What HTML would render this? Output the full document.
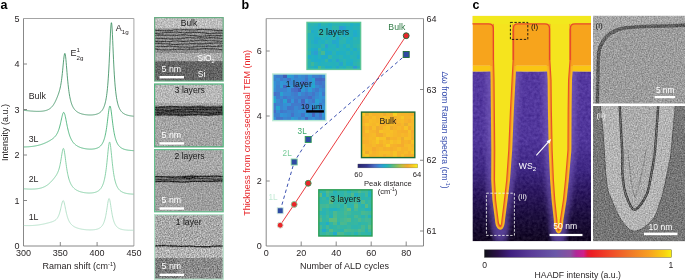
<!DOCTYPE html><html><head><meta charset="utf-8"><style>html,body{margin:0;padding:0;background:#fff;}svg{display:block;font-family:"Liberation Sans", sans-serif;} text{opacity:0.999;}</style></head><body>
<svg width="685" height="280" viewBox="0 0 685 280">
<defs>
<filter id="tem" x="0" y="0" width="100%" height="100%" color-interpolation-filters="sRGB"><feTurbulence type="fractalNoise" baseFrequency="0.75" numOctaves="2" seed="3" result="n"/><feColorMatrix in="n" type="matrix" values="1 0 0 0 0  1 0 0 0 0  1 0 0 0 0  0 0 0 0 1" result="g"/><feComposite in="SourceGraphic" in2="g" operator="arithmetic" k1="0" k2="1" k3="0.42" k4="-0.21"/></filter>
<filter id="tem2" x="0" y="0" width="100%" height="100%" color-interpolation-filters="sRGB"><feTurbulence type="fractalNoise" baseFrequency="0.75" numOctaves="2" seed="9" result="n"/><feColorMatrix in="n" type="matrix" values="1 0 0 0 0  1 0 0 0 0  1 0 0 0 0  0 0 0 0 1" result="g"/><feComposite in="SourceGraphic" in2="g" operator="arithmetic" k1="0" k2="1" k3="0.6" k4="-0.3"/></filter>
<filter id="pn" x="0" y="0" width="100%" height="100%" color-interpolation-filters="sRGB"><feTurbulence type="fractalNoise" baseFrequency="0.35" numOctaves="2" seed="5" result="n"/><feColorMatrix in="n" type="matrix" values="1 0 0 0 0  1 0 0 0 0  1 0 0 0 0  0 0 0 0 1" result="g"/><feComposite in="SourceGraphic" in2="g" operator="arithmetic" k1="0" k2="1" k3="0.16" k4="-0.08"/></filter>
<filter id="blur1" color-interpolation-filters="sRGB"><feGaussianBlur stdDeviation="0.6"/></filter>
<filter id="blur2" x="-20%" y="-20%" width="140%" height="140%" color-interpolation-filters="sRGB"><feGaussianBlur stdDeviation="2.5"/></filter>
<linearGradient id="parula" x1="0" x2="1" y1="0" y2="0"><stop offset="0.0" stop-color="#282670"/><stop offset="0.15" stop-color="#343891"/><stop offset="0.28" stop-color="#486cc6"/><stop offset="0.38" stop-color="#3296d7"/><stop offset="0.45" stop-color="#1eafc8"/><stop offset="0.52" stop-color="#32b6a5"/><stop offset="0.62" stop-color="#6ebe6e"/><stop offset="0.74" stop-color="#c3be3c"/><stop offset="0.83" stop-color="#f5aa2d"/><stop offset="0.92" stop-color="#f8cd23"/><stop offset="1.0" stop-color="#faf019"/></linearGradient>
<linearGradient id="haadf" x1="0" x2="1" y1="0" y2="0"><stop offset="0.0" stop-color="#101018"/><stop offset="0.07" stop-color="#2a1048"/><stop offset="0.14" stop-color="#402080"/><stop offset="0.25" stop-color="#5a3c98"/><stop offset="0.38" stop-color="#6a58a8"/><stop offset="0.46" stop-color="#8a50a0"/><stop offset="0.49" stop-color="#b02898"/><stop offset="0.53" stop-color="#d0208a"/><stop offset="0.55" stop-color="#e01840"/><stop offset="0.57" stop-color="#ec1c24"/><stop offset="0.67" stop-color="#f04828"/><stop offset="0.78" stop-color="#f07828"/><stop offset="0.88" stop-color="#f8a020"/><stop offset="0.96" stop-color="#f8d010"/><stop offset="1.0" stop-color="#f8f010"/></linearGradient>
</defs>
<text x="0.5" y="8.7" font-size="12.5" fill="#000" text-anchor="start" font-weight="bold" >a</text>
<path d="M23.5 18.5H133.9V246.0" fill="none" stroke="#9a9a9a" stroke-width="0.9"/>
<path d="M23.5 18.5V246.0H133.9" fill="none" stroke="#7a7a7a" stroke-width="0.9"/>
<text x="19.6" y="249.2" font-size="9" fill="#231f20" text-anchor="end" font-weight="normal" >0</text>
<line x1="23.5" y1="200.50" x2="27.0" y2="200.50" stroke="#7a7a7a" stroke-width="0.9"/>
<text x="19.6" y="203.7" font-size="9" fill="#231f20" text-anchor="end" font-weight="normal" >1</text>
<line x1="23.5" y1="155.00" x2="27.0" y2="155.00" stroke="#7a7a7a" stroke-width="0.9"/>
<text x="19.6" y="158.2" font-size="9" fill="#231f20" text-anchor="end" font-weight="normal" >2</text>
<line x1="23.5" y1="109.50" x2="27.0" y2="109.50" stroke="#7a7a7a" stroke-width="0.9"/>
<text x="19.6" y="112.7" font-size="9" fill="#231f20" text-anchor="end" font-weight="normal" >3</text>
<line x1="23.5" y1="64.00" x2="27.0" y2="64.00" stroke="#7a7a7a" stroke-width="0.9"/>
<text x="19.6" y="67.2" font-size="9" fill="#231f20" text-anchor="end" font-weight="normal" >4</text>
<text x="19.6" y="21.7" font-size="9" fill="#231f20" text-anchor="end" font-weight="normal" >5</text>
<line x1="60.30" y1="246.0" x2="60.30" y2="242.0" stroke="#7a7a7a" stroke-width="0.9"/>
<line x1="97.10" y1="246.0" x2="97.10" y2="242.0" stroke="#7a7a7a" stroke-width="0.9"/>
<text x="23.50" y="256.3" font-size="9" fill="#231f20" text-anchor="middle" font-weight="normal" >300</text>
<text x="60.30" y="256.3" font-size="9" fill="#231f20" text-anchor="middle" font-weight="normal" >350</text>
<text x="97.10" y="256.3" font-size="9" fill="#231f20" text-anchor="middle" font-weight="normal" >400</text>
<text x="133.90" y="256.3" font-size="9" fill="#231f20" text-anchor="middle" font-weight="normal" >450</text>
<text x="42.5" y="269.2" font-size="9" fill="#231f20" text-anchor="start" font-weight="normal" >Raman shift (cm<tspan font-size="5.6" dy="-3.5">-1</tspan><tspan dy="3.5">)</tspan></text>
<text x="0" y="0" font-size="9" fill="#231f20" text-anchor="middle" font-weight="normal" transform="translate(8.3 132.5) rotate(-90)">Intensity (a.u.)</text>
<path d="M23.80 225.49L24.08 225.50L24.35 225.51L24.63 225.52L24.90 225.53L25.18 225.54L25.45 225.55L25.73 225.56L26.00 225.56L26.28 225.57L26.55 225.58L26.83 225.58L27.10 225.59L27.38 225.59L27.65 225.59L27.93 225.59L28.20 225.59L28.48 225.59L28.75 225.59L29.03 225.59L29.30 225.59L29.58 225.59L29.85 225.58L30.13 225.58L30.40 225.57L30.68 225.56L30.95 225.56L31.23 225.55L31.51 225.54L31.78 225.53L32.06 225.52L32.33 225.50L32.61 225.49L32.88 225.47L33.16 225.46L33.43 225.44L33.71 225.42L33.98 225.41L34.26 225.38L34.53 225.36L34.81 225.34L35.08 225.32L35.36 225.29L35.63 225.27L35.91 225.24L36.18 225.21L36.46 225.18L36.73 225.15L37.01 225.12L37.28 225.09L37.56 225.05L37.83 225.02L38.11 224.98L38.38 224.94L38.66 224.91L38.94 224.87L39.21 224.82L39.49 224.78L39.76 224.74L40.04 224.69L40.31 224.65L40.59 224.60L40.86 224.55L41.14 224.50L41.41 224.45L41.69 224.40L41.96 224.35L42.24 224.29L42.51 224.24L42.79 224.18L43.06 224.12L43.34 224.07L43.61 224.01L43.89 223.95L44.16 223.89L44.44 223.83L44.71 223.76L44.99 223.70L45.26 223.64L45.54 223.57L45.82 223.51L46.09 223.44L46.37 223.38L46.64 223.31L46.92 223.24L47.19 223.17L47.47 223.10L47.74 223.03L48.02 222.96L48.29 222.89L48.57 222.82L48.84 222.75L49.12 222.68L49.39 222.60L49.67 222.53L49.94 222.45L50.22 222.37L50.49 222.29L50.77 222.21L51.04 222.13L51.32 222.05L51.59 221.96L51.87 221.87L52.14 221.77L52.42 221.67L52.69 221.57L52.97 221.46L53.25 221.35L53.52 221.23L53.80 221.10L54.07 220.96L54.35 220.81L54.62 220.65L54.90 220.48L55.17 220.29L55.45 220.09L55.72 219.87L56.00 219.63L56.27 219.37L56.55 219.08L56.82 218.76L57.10 218.41L57.37 218.02L57.65 217.59L57.92 217.12L58.20 216.59L58.47 216.01L58.75 215.37L59.02 214.67L59.30 213.89L59.57 213.04L59.85 212.11L60.12 211.10L60.40 210.02L60.68 208.87L60.95 207.67L61.23 206.44L61.50 205.22L61.78 204.03L62.05 202.94L62.33 202.01L62.60 201.27L62.88 200.80L63.15 200.62L63.43 200.76L63.70 201.20L63.98 201.93L64.25 202.90L64.53 204.06L64.80 205.35L65.08 206.71L65.35 208.10L65.63 209.48L65.90 210.82L66.18 212.10L66.45 213.30L66.73 214.43L67.00 215.48L67.28 216.46L67.55 217.35L67.83 218.18L68.11 218.93L68.38 219.63L68.66 220.27L68.93 220.86L69.21 221.40L69.48 221.90L69.76 222.36L70.03 222.79L70.31 223.18L70.58 223.55L70.86 223.89L71.13 224.21L71.41 224.51L71.68 224.78L71.96 225.04L72.23 225.29L72.51 225.52L72.78 225.73L73.06 225.94L73.33 226.13L73.61 226.31L73.88 226.48L74.16 226.65L74.43 226.80L74.71 226.95L74.98 227.09L75.26 227.22L75.54 227.35L75.81 227.47L76.09 227.59L76.36 227.70L76.64 227.81L76.91 227.91L77.19 228.00L77.46 228.10L77.74 228.19L78.01 228.27L78.29 228.36L78.56 228.44L78.84 228.51L79.11 228.59L79.39 228.66L79.66 228.72L79.94 228.79L80.21 228.85L80.49 228.91L80.76 228.97L81.04 229.03L81.31 229.08L81.59 229.13L81.86 229.18L82.14 229.23L82.42 229.28L82.69 229.32L82.97 229.36L83.24 229.41L83.52 229.44L83.79 229.48L84.07 229.52L84.34 229.55L84.62 229.58L84.89 229.61L85.17 229.64L85.44 229.67L85.72 229.70L85.99 229.72L86.27 229.75L86.54 229.77L86.82 229.79L87.09 229.81L87.37 229.83L87.64 229.84L87.92 229.86L88.19 229.87L88.47 229.88L88.74 229.89L89.02 229.90L89.29 229.91L89.57 229.91L89.85 229.92L90.12 229.92L90.40 229.92L90.67 229.92L90.95 229.91L91.22 229.91L91.50 229.90L91.77 229.89L92.05 229.88L92.32 229.86L92.60 229.85L92.87 229.83L93.15 229.81L93.42 229.79L93.70 229.76L93.97 229.73L94.25 229.70L94.52 229.66L94.80 229.63L95.07 229.58L95.35 229.54L95.62 229.49L95.90 229.43L96.17 229.37L96.45 229.31L96.72 229.24L97.00 229.17L97.28 229.08L97.55 229.00L97.83 228.90L98.10 228.80L98.38 228.69L98.65 228.57L98.93 228.44L99.20 228.30L99.48 228.14L99.75 227.98L100.03 227.80L100.30 227.60L100.58 227.39L100.85 227.16L101.13 226.90L101.40 226.63L101.68 226.32L101.95 225.99L102.23 225.63L102.50 225.23L102.78 224.79L103.05 224.30L103.33 223.76L103.60 223.17L103.88 222.51L104.15 221.79L104.43 220.98L104.71 220.09L104.98 219.10L105.26 218.01L105.53 216.80L105.81 215.48L106.08 214.03L106.36 212.46L106.63 210.78L106.91 209.00L107.18 207.17L107.46 205.32L107.73 203.53L108.01 201.88L108.28 200.47L108.56 199.39L108.83 198.72L109.11 198.53L109.38 198.83L109.66 199.58L109.93 200.74L110.21 202.22L110.48 203.90L110.76 205.71L111.03 207.56L111.31 209.39L111.58 211.15L111.86 212.81L112.14 214.35L112.41 215.77L112.69 217.08L112.96 218.26L113.24 219.33L113.51 220.30L113.79 221.17L114.06 221.96L114.34 222.67L114.61 223.31L114.89 223.90L115.16 224.42L115.44 224.90L115.71 225.33L115.99 225.73L116.26 226.09L116.54 226.41L116.81 226.71L117.09 226.99L117.36 227.24L117.64 227.47L117.91 227.68L118.19 227.88L118.46 228.05L118.74 228.22L119.02 228.37L119.29 228.52L119.57 228.65L119.84 228.77L120.12 228.88L120.39 228.99L120.67 229.08L120.94 229.17L121.22 229.26L121.49 229.34L121.77 229.41L122.04 229.48L122.32 229.54L122.59 229.60L122.87 229.65L123.14 229.71L123.42 229.75L123.69 229.80L123.97 229.84L124.24 229.88L124.52 229.91L124.79 229.95L125.07 229.98L125.34 230.01L125.62 230.03L125.89 230.06L126.17 230.08L126.45 230.10L126.72 230.12L127.00 230.14L127.27 230.16L127.55 230.17L127.82 230.18L128.10 230.20L128.37 230.21L128.65 230.22L128.92 230.22L129.20 230.23L129.47 230.24L129.75 230.24L130.02 230.25L130.30 230.25L130.57 230.25L130.85 230.26L131.12 230.26L131.40 230.26L131.67 230.26L131.95 230.26L132.22 230.25L132.50 230.25L132.77 230.25L133.05 230.24L133.32 230.24L133.60 230.23" fill="none" stroke="#a9dcc0" stroke-width="0.85" stroke-linejoin="round"/>
<path d="M23.80 188.78L24.08 188.81L24.35 188.83L24.63 188.85L24.90 188.87L25.18 188.89L25.45 188.91L25.73 188.92L26.00 188.94L26.28 188.96L26.55 188.97L26.83 188.99L27.10 189.00L27.38 189.02L27.65 189.03L27.93 189.04L28.20 189.05L28.48 189.06L28.75 189.07L29.03 189.08L29.30 189.09L29.58 189.10L29.85 189.10L30.13 189.11L30.40 189.11L30.68 189.11L30.95 189.11L31.23 189.11L31.51 189.11L31.78 189.11L32.06 189.11L32.33 189.10L32.61 189.10L32.88 189.09L33.16 189.08L33.43 189.07L33.71 189.06L33.98 189.05L34.26 189.03L34.53 189.02L34.81 189.00L35.08 188.98L35.36 188.96L35.63 188.93L35.91 188.91L36.18 188.88L36.46 188.85L36.73 188.82L37.01 188.79L37.28 188.75L37.56 188.72L37.83 188.67L38.11 188.63L38.38 188.59L38.66 188.54L38.94 188.49L39.21 188.44L39.49 188.38L39.76 188.32L40.04 188.26L40.31 188.19L40.59 188.12L40.86 188.05L41.14 187.97L41.41 187.90L41.69 187.81L41.96 187.72L42.24 187.63L42.51 187.54L42.79 187.44L43.06 187.33L43.34 187.22L43.61 187.11L43.89 186.99L44.16 186.87L44.44 186.74L44.71 186.60L44.99 186.46L45.26 186.32L45.54 186.17L45.82 186.01L46.09 185.85L46.37 185.68L46.64 185.50L46.92 185.32L47.19 185.13L47.47 184.93L47.74 184.73L48.02 184.52L48.29 184.31L48.57 184.08L48.84 183.85L49.12 183.61L49.39 183.37L49.67 183.12L49.94 182.86L50.22 182.60L50.49 182.32L50.77 182.05L51.04 181.76L51.32 181.47L51.59 181.18L51.87 180.87L52.14 180.57L52.42 180.25L52.69 179.93L52.97 179.61L53.25 179.28L53.52 178.95L53.80 178.61L54.07 178.26L54.35 177.91L54.62 177.55L54.90 177.18L55.17 176.81L55.45 176.42L55.72 176.02L56.00 175.61L56.27 175.18L56.55 174.73L56.82 174.26L57.10 173.76L57.37 173.22L57.65 172.65L57.92 172.03L58.20 171.35L58.47 170.62L58.75 169.81L59.02 168.93L59.30 167.96L59.57 166.90L59.85 165.73L60.12 164.45L60.40 163.06L60.68 161.56L60.95 159.96L61.23 158.28L61.50 156.55L61.78 154.81L62.05 153.13L62.33 151.58L62.60 150.25L62.88 149.22L63.15 148.59L63.43 148.41L63.70 148.71L63.98 149.48L64.25 150.68L64.53 152.25L64.80 154.10L65.08 156.13L65.35 158.26L65.63 160.43L65.90 162.56L66.18 164.63L66.45 166.59L66.73 168.44L67.00 170.16L67.28 171.76L67.55 173.24L67.83 174.60L68.11 175.84L68.38 176.99L68.66 178.04L68.93 179.01L69.21 179.90L69.48 180.72L69.76 181.48L70.03 182.17L70.31 182.82L70.58 183.42L70.86 183.97L71.13 184.49L71.41 184.96L71.68 185.41L71.96 185.83L72.23 186.22L72.51 186.59L72.78 186.93L73.06 187.26L73.33 187.56L73.61 187.85L73.88 188.12L74.16 188.38L74.43 188.62L74.71 188.85L74.98 189.07L75.26 189.27L75.54 189.47L75.81 189.65L76.09 189.83L76.36 190.00L76.64 190.16L76.91 190.31L77.19 190.46L77.46 190.60L77.74 190.73L78.01 190.86L78.29 190.98L78.56 191.10L78.84 191.21L79.11 191.32L79.39 191.42L79.66 191.52L79.94 191.61L80.21 191.70L80.49 191.78L80.76 191.86L81.04 191.94L81.31 192.02L81.59 192.09L81.86 192.16L82.14 192.22L82.42 192.28L82.69 192.34L82.97 192.40L83.24 192.45L83.52 192.50L83.79 192.55L84.07 192.60L84.34 192.64L84.62 192.68L84.89 192.72L85.17 192.76L85.44 192.79L85.72 192.82L85.99 192.85L86.27 192.88L86.54 192.90L86.82 192.93L87.09 192.95L87.37 192.96L87.64 192.98L87.92 192.99L88.19 193.00L88.47 193.01L88.74 193.02L89.02 193.02L89.29 193.02L89.57 193.02L89.85 193.02L90.12 193.01L90.40 193.00L90.67 192.99L90.95 192.98L91.22 192.96L91.50 192.94L91.77 192.91L92.05 192.89L92.32 192.86L92.60 192.82L92.87 192.79L93.15 192.74L93.42 192.70L93.70 192.65L93.97 192.60L94.25 192.54L94.52 192.47L94.80 192.41L95.07 192.33L95.35 192.25L95.62 192.16L95.90 192.07L96.17 191.97L96.45 191.86L96.72 191.75L97.00 191.62L97.28 191.49L97.55 191.34L97.83 191.19L98.10 191.02L98.38 190.84L98.65 190.65L98.93 190.44L99.20 190.22L99.48 189.98L99.75 189.72L100.03 189.43L100.30 189.13L100.58 188.80L100.85 188.44L101.13 188.05L101.40 187.63L101.68 187.17L101.95 186.67L102.23 186.13L102.50 185.53L102.78 184.88L103.05 184.17L103.33 183.39L103.60 182.53L103.88 181.59L104.15 180.55L104.43 179.41L104.71 178.16L104.98 176.77L105.26 175.25L105.53 173.58L105.81 171.75L106.08 169.74L106.36 167.57L106.63 165.21L106.91 162.70L107.18 160.04L107.46 157.28L107.73 154.46L108.01 151.68L108.28 149.04L108.56 146.64L108.83 144.63L109.11 143.13L109.38 142.25L109.66 142.04L109.93 142.53L110.21 143.69L110.48 145.41L110.76 147.60L111.03 150.12L111.31 152.84L111.58 155.65L111.86 158.46L112.14 161.19L112.41 163.80L112.69 166.26L112.96 168.55L113.24 170.66L113.51 172.60L113.79 174.38L114.06 176.00L114.34 177.47L114.61 178.80L114.89 180.02L115.16 181.12L115.44 182.13L115.71 183.04L115.99 183.88L116.26 184.64L116.54 185.33L116.81 185.97L117.09 186.55L117.36 187.09L117.64 187.58L117.91 188.03L118.19 188.45L118.46 188.83L118.74 189.19L119.02 189.52L119.29 189.82L119.57 190.10L119.84 190.37L120.12 190.61L120.39 190.84L120.67 191.05L120.94 191.25L121.22 191.44L121.49 191.61L121.77 191.77L122.04 191.92L122.32 192.07L122.59 192.20L122.87 192.33L123.14 192.45L123.42 192.56L123.69 192.66L123.97 192.76L124.24 192.85L124.52 192.94L124.79 193.02L125.07 193.10L125.34 193.17L125.62 193.24L125.89 193.31L126.17 193.37L126.45 193.42L126.72 193.48L127.00 193.53L127.27 193.58L127.55 193.63L127.82 193.67L128.10 193.71L128.37 193.75L128.65 193.78L128.92 193.82L129.20 193.85L129.47 193.88L129.75 193.91L130.02 193.94L130.30 193.96L130.57 193.98L130.85 194.01L131.12 194.03L131.40 194.04L131.67 194.06L131.95 194.08L132.22 194.09L132.50 194.11L132.77 194.12L133.05 194.13L133.32 194.14L133.60 194.15" fill="none" stroke="#72c797" stroke-width="0.85" stroke-linejoin="round"/>
<path d="M23.80 146.96L24.08 146.95L24.35 146.95L24.63 146.94L24.90 146.93L25.18 146.93L25.45 146.92L25.73 146.91L26.00 146.90L26.28 146.89L26.55 146.88L26.83 146.86L27.10 146.85L27.38 146.84L27.65 146.82L27.93 146.81L28.20 146.79L28.48 146.77L28.75 146.75L29.03 146.73L29.30 146.71L29.58 146.69L29.85 146.67L30.13 146.64L30.40 146.62L30.68 146.59L30.95 146.56L31.23 146.53L31.51 146.50L31.78 146.47L32.06 146.44L32.33 146.41L32.61 146.37L32.88 146.33L33.16 146.30L33.43 146.26L33.71 146.22L33.98 146.17L34.26 146.13L34.53 146.09L34.81 146.04L35.08 145.99L35.36 145.94L35.63 145.89L35.91 145.84L36.18 145.78L36.46 145.73L36.73 145.67L37.01 145.61L37.28 145.55L37.56 145.49L37.83 145.42L38.11 145.36L38.38 145.29L38.66 145.22L38.94 145.14L39.21 145.07L39.49 144.99L39.76 144.92L40.04 144.84L40.31 144.75L40.59 144.67L40.86 144.58L41.14 144.50L41.41 144.41L41.69 144.31L41.96 144.22L42.24 144.12L42.51 144.02L42.79 143.92L43.06 143.82L43.34 143.71L43.61 143.61L43.89 143.50L44.16 143.39L44.44 143.27L44.71 143.16L44.99 143.04L45.26 142.92L45.54 142.80L45.82 142.67L46.09 142.54L46.37 142.42L46.64 142.28L46.92 142.15L47.19 142.02L47.47 141.88L47.74 141.74L48.02 141.59L48.29 141.45L48.57 141.30L48.84 141.15L49.12 141.00L49.39 140.85L49.67 140.69L49.94 140.53L50.22 140.36L50.49 140.20L50.77 140.03L51.04 139.85L51.32 139.67L51.59 139.49L51.87 139.30L52.14 139.11L52.42 138.91L52.69 138.70L52.97 138.49L53.25 138.26L53.52 138.03L53.80 137.79L54.07 137.54L54.35 137.27L54.62 137.00L54.90 136.70L55.17 136.39L55.45 136.06L55.72 135.71L56.00 135.34L56.27 134.94L56.55 134.52L56.82 134.06L57.10 133.57L57.37 133.04L57.65 132.48L57.92 131.86L58.20 131.20L58.47 130.49L58.75 129.72L59.02 128.90L59.30 128.01L59.57 127.06L59.85 126.05L60.12 124.98L60.40 123.85L60.68 122.66L60.95 121.43L61.23 120.18L61.50 118.92L61.78 117.68L62.05 116.49L62.33 115.38L62.60 114.39L62.88 113.57L63.15 112.94L63.43 112.54L63.70 112.40L63.98 112.51L64.25 112.89L64.53 113.52L64.80 114.38L65.08 115.43L65.35 116.63L65.63 117.95L65.90 119.35L66.18 120.79L66.45 122.24L66.73 123.68L67.00 125.08L67.28 126.44L67.55 127.75L67.83 128.99L68.11 130.17L68.38 131.28L68.66 132.32L68.93 133.30L69.21 134.21L69.48 135.07L69.76 135.87L70.03 136.61L70.31 137.31L70.58 137.96L70.86 138.57L71.13 139.14L71.41 139.67L71.68 140.17L71.96 140.64L72.23 141.09L72.51 141.50L72.78 141.89L73.06 142.26L73.33 142.61L73.61 142.93L73.88 143.24L74.16 143.54L74.43 143.81L74.71 144.08L74.98 144.33L75.26 144.56L75.54 144.79L75.81 145.01L76.09 145.21L76.36 145.41L76.64 145.59L76.91 145.77L77.19 145.94L77.46 146.10L77.74 146.26L78.01 146.41L78.29 146.55L78.56 146.68L78.84 146.81L79.11 146.94L79.39 147.06L79.66 147.17L79.94 147.28L80.21 147.39L80.49 147.49L80.76 147.59L81.04 147.68L81.31 147.77L81.59 147.86L81.86 147.94L82.14 148.02L82.42 148.09L82.69 148.17L82.97 148.24L83.24 148.30L83.52 148.37L83.79 148.43L84.07 148.49L84.34 148.54L84.62 148.59L84.89 148.64L85.17 148.69L85.44 148.74L85.72 148.78L85.99 148.82L86.27 148.86L86.54 148.89L86.82 148.93L87.09 148.96L87.37 148.99L87.64 149.01L87.92 149.04L88.19 149.06L88.47 149.08L88.74 149.09L89.02 149.11L89.29 149.12L89.57 149.13L89.85 149.14L90.12 149.14L90.40 149.15L90.67 149.15L90.95 149.14L91.22 149.14L91.50 149.13L91.77 149.12L92.05 149.10L92.32 149.09L92.60 149.07L92.87 149.04L93.15 149.01L93.42 148.98L93.70 148.95L93.97 148.91L94.25 148.87L94.52 148.82L94.80 148.77L95.07 148.71L95.35 148.65L95.62 148.58L95.90 148.51L96.17 148.43L96.45 148.35L96.72 148.26L97.00 148.16L97.28 148.05L97.55 147.93L97.83 147.81L98.10 147.68L98.38 147.53L98.65 147.37L98.93 147.21L99.20 147.03L99.48 146.83L99.75 146.62L100.03 146.39L100.30 146.14L100.58 145.88L100.85 145.59L101.13 145.28L101.40 144.94L101.68 144.57L101.95 144.17L102.23 143.73L102.50 143.26L102.78 142.74L103.05 142.17L103.33 141.56L103.60 140.88L103.88 140.14L104.15 139.33L104.43 138.44L104.71 137.46L104.98 136.39L105.26 135.21L105.53 133.92L105.81 132.51L106.08 130.97L106.36 129.29L106.63 127.48L106.91 125.52L107.18 123.44L107.46 121.25L107.73 118.97L108.01 116.66L108.28 114.37L108.56 112.18L108.83 110.19L109.11 108.48L109.38 107.16L109.66 106.32L109.93 106.00L110.21 106.23L110.48 107.00L110.76 108.26L111.03 109.92L111.31 111.88L111.58 114.05L111.86 116.34L112.14 118.66L112.41 120.96L112.69 123.18L112.96 125.29L113.24 127.28L113.51 129.13L113.79 130.84L114.06 132.42L114.34 133.86L114.61 135.18L114.89 136.39L115.16 137.49L115.44 138.50L115.71 139.41L115.99 140.25L116.26 141.01L116.54 141.71L116.81 142.35L117.09 142.94L117.36 143.48L117.64 143.97L117.91 144.43L118.19 144.84L118.46 145.23L118.74 145.59L119.02 145.92L119.29 146.23L119.57 146.51L119.84 146.78L120.12 147.02L120.39 147.25L120.67 147.47L120.94 147.66L121.22 147.85L121.49 148.03L121.77 148.19L122.04 148.34L122.32 148.49L122.59 148.62L122.87 148.75L123.14 148.87L123.42 148.98L123.69 149.08L123.97 149.18L124.24 149.28L124.52 149.36L124.79 149.45L125.07 149.53L125.34 149.60L125.62 149.67L125.89 149.74L126.17 149.80L126.45 149.86L126.72 149.91L127.00 149.97L127.27 150.02L127.55 150.07L127.82 150.11L128.10 150.15L128.37 150.19L128.65 150.23L128.92 150.27L129.20 150.30L129.47 150.33L129.75 150.36L130.02 150.39L130.30 150.42L130.57 150.45L130.85 150.47L131.12 150.49L131.40 150.51L131.67 150.53L131.95 150.55L132.22 150.57L132.50 150.59L132.77 150.60L133.05 150.62L133.32 150.63L133.60 150.64" fill="none" stroke="#3fae70" stroke-width="0.85" stroke-linejoin="round"/>
<path d="M23.80 110.28L24.08 110.31L24.35 110.35L24.63 110.38L24.90 110.42L25.18 110.45L25.45 110.48L25.73 110.51L26.00 110.55L26.28 110.58L26.55 110.61L26.83 110.64L27.10 110.67L27.38 110.70L27.65 110.73L27.93 110.76L28.20 110.79L28.48 110.81L28.75 110.84L29.03 110.87L29.30 110.90L29.58 110.92L29.85 110.95L30.13 110.97L30.40 111.00L30.68 111.02L30.95 111.04L31.23 111.07L31.51 111.09L31.78 111.11L32.06 111.13L32.33 111.15L32.61 111.17L32.88 111.19L33.16 111.21L33.43 111.22L33.71 111.24L33.98 111.26L34.26 111.27L34.53 111.28L34.81 111.30L35.08 111.31L35.36 111.32L35.63 111.33L35.91 111.34L36.18 111.35L36.46 111.36L36.73 111.36L37.01 111.37L37.28 111.37L37.56 111.37L37.83 111.38L38.11 111.38L38.38 111.37L38.66 111.37L38.94 111.37L39.21 111.36L39.49 111.35L39.76 111.35L40.04 111.33L40.31 111.32L40.59 111.31L40.86 111.29L41.14 111.27L41.41 111.25L41.69 111.23L41.96 111.20L42.24 111.17L42.51 111.14L42.79 111.11L43.06 111.07L43.34 111.03L43.61 110.99L43.89 110.95L44.16 110.90L44.44 110.84L44.71 110.78L44.99 110.72L45.26 110.66L45.54 110.59L45.82 110.51L46.09 110.43L46.37 110.35L46.64 110.25L46.92 110.16L47.19 110.05L47.47 109.94L47.74 109.82L48.02 109.70L48.29 109.57L48.57 109.42L48.84 109.27L49.12 109.11L49.39 108.94L49.67 108.76L49.94 108.57L50.22 108.36L50.49 108.14L50.77 107.91L51.04 107.67L51.32 107.41L51.59 107.13L51.87 106.84L52.14 106.53L52.42 106.20L52.69 105.85L52.97 105.49L53.25 105.10L53.52 104.70L53.80 104.27L54.07 103.82L54.35 103.34L54.62 102.85L54.90 102.33L55.17 101.80L55.45 101.24L55.72 100.66L56.00 100.06L56.27 99.44L56.55 98.81L56.82 98.15L57.10 97.48L57.37 96.79L57.65 96.09L57.92 95.36L58.20 94.61L58.47 93.84L58.75 93.03L59.02 92.18L59.30 91.27L59.57 90.30L59.85 89.26L60.12 88.12L60.40 86.86L60.68 85.48L60.95 83.94L61.23 82.24L61.50 80.34L61.78 78.25L62.05 75.95L62.33 73.44L62.60 70.75L62.88 67.91L63.15 65.01L63.43 62.13L63.70 59.41L63.98 57.00L64.25 55.09L64.53 53.83L64.80 53.35L65.08 53.71L65.35 54.90L65.63 56.84L65.90 59.40L66.18 62.41L66.45 65.69L66.73 69.09L67.00 72.48L67.28 75.78L67.55 78.92L67.83 81.85L68.11 84.57L68.38 87.06L68.66 89.34L68.93 91.41L69.21 93.29L69.48 95.00L69.76 96.54L70.03 97.94L70.31 99.21L70.58 100.37L70.86 101.42L71.13 102.38L71.41 103.25L71.68 104.05L71.96 104.78L72.23 105.45L72.51 106.07L72.78 106.64L73.06 107.17L73.33 107.66L73.61 108.11L73.88 108.53L74.16 108.92L74.43 109.28L74.71 109.62L74.98 109.93L75.26 110.23L75.54 110.51L75.81 110.77L76.09 111.01L76.36 111.24L76.64 111.46L76.91 111.66L77.19 111.85L77.46 112.04L77.74 112.21L78.01 112.37L78.29 112.52L78.56 112.67L78.84 112.81L79.11 112.94L79.39 113.06L79.66 113.18L79.94 113.29L80.21 113.40L80.49 113.50L80.76 113.60L81.04 113.69L81.31 113.78L81.59 113.86L81.86 113.94L82.14 114.02L82.42 114.09L82.69 114.16L82.97 114.22L83.24 114.28L83.52 114.34L83.79 114.40L84.07 114.45L84.34 114.50L84.62 114.55L84.89 114.59L85.17 114.63L85.44 114.67L85.72 114.71L85.99 114.74L86.27 114.78L86.54 114.81L86.82 114.83L87.09 114.86L87.37 114.88L87.64 114.90L87.92 114.92L88.19 114.94L88.47 114.95L88.74 114.97L89.02 114.98L89.29 114.98L89.57 114.99L89.85 114.99L90.12 115.00L90.40 114.99L90.67 114.99L90.95 114.98L91.22 114.98L91.50 114.97L91.77 114.95L92.05 114.94L92.32 114.92L92.60 114.90L92.87 114.87L93.15 114.84L93.42 114.81L93.70 114.78L93.97 114.74L94.25 114.70L94.52 114.65L94.80 114.61L95.07 114.55L95.35 114.49L95.62 114.43L95.90 114.36L96.17 114.29L96.45 114.21L96.72 114.13L97.00 114.04L97.28 113.94L97.55 113.84L97.83 113.73L98.10 113.61L98.38 113.48L98.65 113.34L98.93 113.19L99.20 113.03L99.48 112.86L99.75 112.67L100.03 112.47L100.30 112.26L100.58 112.03L100.85 111.78L101.13 111.51L101.40 111.22L101.68 110.90L101.95 110.56L102.23 110.18L102.50 109.78L102.78 109.34L103.05 108.85L103.33 108.33L103.60 107.75L103.88 107.11L104.15 106.41L104.43 105.64L104.71 104.79L104.98 103.85L105.26 102.80L105.53 101.63L105.81 100.33L106.08 98.87L106.36 97.24L106.63 95.40L106.91 93.32L107.18 90.98L107.46 88.34L107.73 85.35L108.01 81.97L108.28 78.15L108.56 73.85L108.83 69.05L109.11 63.74L109.38 57.94L109.66 51.76L109.93 45.35L110.21 39.00L110.48 33.09L110.76 28.09L111.03 24.48L111.31 22.67L111.58 22.89L111.86 25.10L112.14 29.04L112.41 34.28L112.69 40.33L112.96 46.72L113.24 53.11L113.51 59.24L113.79 64.95L114.06 70.17L114.34 74.88L114.61 79.08L114.89 82.82L115.16 86.12L115.44 89.05L115.71 91.64L115.99 93.93L116.26 95.96L116.54 97.77L116.81 99.38L117.09 100.81L117.36 102.10L117.64 103.25L117.91 104.29L118.19 105.22L118.46 106.07L118.74 106.83L119.02 107.53L119.29 108.16L119.57 108.74L119.84 109.27L120.12 109.76L120.39 110.20L120.67 110.61L120.94 110.99L121.22 111.34L121.49 111.66L121.77 111.96L122.04 112.24L122.32 112.50L122.59 112.74L122.87 112.97L123.14 113.17L123.42 113.37L123.69 113.55L123.97 113.73L124.24 113.89L124.52 114.04L124.79 114.18L125.07 114.31L125.34 114.44L125.62 114.56L125.89 114.67L126.17 114.77L126.45 114.87L126.72 114.96L127.00 115.05L127.27 115.14L127.55 115.22L127.82 115.29L128.10 115.36L128.37 115.43L128.65 115.49L128.92 115.55L129.20 115.61L129.47 115.66L129.75 115.71L130.02 115.76L130.30 115.81L130.57 115.85L130.85 115.89L131.12 115.93L131.40 115.97L131.67 116.00L131.95 116.04L132.22 116.07L132.50 116.10L132.77 116.13L133.05 116.15L133.32 116.18L133.60 116.20" fill="none" stroke="#3a8f60" stroke-width="0.85" stroke-linejoin="round"/>
<text x="28.7" y="99" font-size="8.8" fill="#231f20" text-anchor="start" font-weight="normal" >Bulk</text>
<text x="28.7" y="141.6" font-size="8.8" fill="#231f20" text-anchor="start" font-weight="normal" >3L</text>
<text x="28.7" y="181.6" font-size="8.8" fill="#231f20" text-anchor="start" font-weight="normal" >2L</text>
<text x="28.7" y="219.6" font-size="8.8" fill="#231f20" text-anchor="start" font-weight="normal" >1L</text>
<text x="70.6" y="56.3" font-size="9" fill="#231f20" text-anchor="start" font-weight="normal" >E<tspan font-size="6.2" dy="-4.3">1</tspan><tspan font-size="6.2" dx="-3.5" dy="7.8">2g</tspan></text>
<text x="115.8" y="31.3" font-size="9" fill="#231f20" text-anchor="start" font-weight="normal" >A<tspan font-size="6.2" dy="2.6">1g</tspan></text>
<clipPath id="tc0"><rect x="154.6" y="17.6" width="68.6" height="63.4"/></clipPath>
<g clip-path="url(#tc0)"><g filter="url(#tem)">
<rect x="154.6" y="17.6" width="68.6" height="63.4" fill="#a0a0a0"/>
<rect x="154.6" y="17.6" width="68.6" height="11.0" fill="#bebebe"/>
<rect x="154.6" y="28.6" width="68.6" height="23.699999999999996" fill="#929292"/>
<path d="M152.60 30.07L154.46 30.28L156.32 30.44L158.18 30.51L160.05 30.51L161.91 30.52L163.77 30.58L165.63 30.67L167.49 30.70L169.35 30.58L171.22 30.33L173.08 30.03L174.94 29.80L176.80 29.71L178.66 29.73L180.52 29.76L182.38 29.75L184.25 29.68L186.11 29.62L187.97 29.65L189.83 29.77L191.69 29.90L193.55 29.95L195.42 29.85L197.28 29.65L199.14 29.46L201.00 29.38L202.86 29.43L204.72 29.54L206.58 29.64L208.45 29.68L210.31 29.71L212.17 29.81L214.03 30.03L215.89 30.31L217.75 30.56L219.62 30.66L221.48 30.61L223.34 30.47L225.20 30.36" fill="none" stroke="#454545" stroke-width="1.15"/>
<path d="M152.60 33.17L154.46 33.27L156.32 33.38L158.18 33.41L160.05 33.29L161.91 33.03L163.77 32.73L165.63 32.51L167.49 32.42L169.35 32.41L171.22 32.40L173.08 32.33L174.94 32.24L176.80 32.20L178.66 32.28L180.52 32.45L182.38 32.63L184.25 32.71L186.11 32.64L187.97 32.48L189.83 32.34L191.69 32.30L193.55 32.35L195.42 32.44L197.28 32.49L199.14 32.48L201.00 32.48L202.86 32.59L204.72 32.82L206.58 33.12L208.45 33.37L210.31 33.47L212.17 33.42L214.03 33.31L215.89 33.22L217.75 33.19L219.62 33.19L221.48 33.14L223.34 33.00L225.20 32.82" fill="none" stroke="#454545" stroke-width="1.15"/>
<path d="M152.60 35.74L154.46 35.46L156.32 35.20L158.18 35.05L160.05 35.06L161.91 35.18L163.77 35.28L165.63 35.30L167.49 35.25L169.35 35.19L171.22 35.21L173.08 35.29L174.94 35.36L176.80 35.33L178.66 35.18L180.52 34.98L182.38 34.84L184.25 34.85L186.11 35.00L187.97 35.21L189.83 35.38L191.69 35.48L193.55 35.54L195.42 35.66L197.28 35.86L199.14 36.07L201.00 36.21L202.86 36.19L204.72 36.03L206.58 35.82L208.45 35.69L210.31 35.67L212.17 35.73L214.03 35.78L215.89 35.75L217.75 35.68L219.62 35.63L221.48 35.67L223.34 35.79L225.20 35.90" fill="none" stroke="#454545" stroke-width="1.15"/>
<path d="M152.60 38.45L154.46 38.52L156.32 38.53L158.18 38.45L160.05 38.32L161.91 38.27L163.77 38.35L165.63 38.56L167.49 38.78L169.35 38.91L171.22 38.90L173.08 38.81L174.94 38.71L176.80 38.67L178.66 38.65L180.52 38.57L182.38 38.38L184.25 38.11L186.11 37.84L187.97 37.69L189.83 37.70L191.69 37.82L193.55 37.94L195.42 37.98L197.28 37.95L199.14 37.91L201.00 37.94L202.86 38.03L204.72 38.12L206.58 38.12L208.45 37.99L210.31 37.81L212.17 37.68L214.03 37.70L215.89 37.85L217.75 38.07L219.62 38.24L221.48 38.34L223.34 38.41L225.20 38.51" fill="none" stroke="#454545" stroke-width="1.15"/>
<path d="M152.60 40.85L154.46 41.14L156.32 41.43L158.18 41.61L160.05 41.63L161.91 41.56L163.77 41.48L165.63 41.46L167.49 41.49L169.35 41.47L171.22 41.37L173.08 41.18L174.94 41.02L176.80 40.97L178.66 41.06L180.52 41.23L182.38 41.35L184.25 41.35L186.11 41.24L187.97 41.09L189.83 40.99L191.69 40.94L193.55 40.90L195.42 40.78L197.28 40.57L199.14 40.33L201.00 40.17L202.86 40.18L204.72 40.33L206.58 40.54L208.45 40.70L210.31 40.77L212.17 40.80L214.03 40.85L215.89 40.97L217.75 41.12L219.62 41.21L221.48 41.18L223.34 41.04L225.20 40.90" fill="none" stroke="#454545" stroke-width="1.15"/>
<path d="M152.60 43.61L154.46 43.45L156.32 43.37L158.18 43.41L160.05 43.53L161.91 43.65L163.77 43.70L165.63 43.72L167.49 43.79L169.35 43.96L171.22 44.21L173.08 44.46L174.94 44.58L176.80 44.53L178.66 44.36L180.52 44.19L182.38 44.08L184.25 44.05L186.11 44.02L187.97 43.92L189.83 43.76L191.69 43.61L193.55 43.56L195.42 43.64L197.28 43.80L199.14 43.92L201.00 43.91L202.86 43.77L204.72 43.58L206.58 43.44L208.45 43.38L210.31 43.36L212.17 43.30L214.03 43.18L215.89 43.03L217.75 42.95L219.62 43.03L221.48 43.26L223.34 43.54L225.20 43.76" fill="none" stroke="#454545" stroke-width="1.15"/>
<path d="M152.60 46.21L154.46 46.28L156.32 46.27L158.18 46.25L160.05 46.30L161.91 46.40L163.77 46.48L165.63 46.48L167.49 46.37L169.35 46.22L171.22 46.17L173.08 46.26L174.94 46.48L176.80 46.72L178.66 46.90L180.52 46.97L182.38 46.99L184.25 47.04L186.11 47.14L187.97 47.24L189.83 47.25L191.69 47.11L193.55 46.86L195.42 46.59L197.28 46.43L199.14 46.40L201.00 46.46L202.86 46.50L204.72 46.47L206.58 46.39L208.45 46.33L210.31 46.36L212.17 46.46L214.03 46.53L215.89 46.49L217.75 46.31L219.62 46.06L221.48 45.86L223.34 45.79L225.20 45.84" fill="none" stroke="#454545" stroke-width="1.15"/>
<path d="M152.60 48.94L154.46 49.05L156.32 49.29L158.18 49.56L160.05 49.75L161.91 49.83L163.77 49.82L165.63 49.82L167.49 49.87L169.35 49.93L171.22 49.92L173.08 49.78L174.94 49.52L176.80 49.27L178.66 49.12L180.52 49.11L182.38 49.20L184.25 49.28L186.11 49.28L187.97 49.20L189.83 49.13L191.69 49.13L193.55 49.18L195.42 49.23L197.28 49.17L199.14 48.98L201.00 48.73L202.86 48.53L204.72 48.47L206.58 48.56L208.45 48.70L210.31 48.82L212.17 48.88L214.03 48.93L215.89 49.05L217.75 49.26L219.62 49.51L221.48 49.69L223.34 49.72L225.20 49.61" fill="none" stroke="#454545" stroke-width="1.15"/>
<rect x="154.6" y="50.5" width="68.6" height="2.5" fill="#8a8a8a"/>
<rect x="154.6" y="53" width="68.6" height="8.2" fill="#aaaaaa"/>
<rect x="154.6" y="61.2" width="68.6" height="19.799999999999997" fill="#636363"/>
</g></g>
<rect x="154.6" y="17.6" width="68.6" height="63.4" fill="none" stroke="#6aae84" stroke-width="1.2"/>
<clipPath id="tc1"><rect x="154.6" y="84.0" width="68.6" height="62.900000000000006"/></clipPath>
<g clip-path="url(#tc1)"><g filter="url(#tem)">
<rect x="154.6" y="84.0" width="68.6" height="62.900000000000006" fill="#a4a4a4"/>
<rect x="154.6" y="84.0" width="68.6" height="19" fill="#b8b8b8"/>
<path d="M152.60 110.96L154.46 111.18L156.32 111.35L158.18 111.37L160.05 111.24L161.91 111.05L163.77 110.93L165.63 110.95L167.49 111.09L169.35 111.24L171.22 111.31L173.08 111.31L174.94 111.29L176.80 111.35L178.66 111.49L180.52 111.63L182.38 111.65L184.25 111.49L186.11 111.19L187.97 110.88L189.83 110.66L191.69 110.57L193.55 110.55L195.42 110.51L197.28 110.41L199.14 110.29L201.00 110.27L202.86 110.38L204.72 110.59L206.58 110.78L208.45 110.84L210.31 110.75L212.17 110.58L214.03 110.45L215.89 110.43L217.75 110.50L219.62 110.58L221.48 110.59L223.34 110.56L225.20 110.57" fill="none" stroke="#555" stroke-width="9.5"/>
<path d="M152.60 107.53L154.46 107.53L156.32 107.43L158.18 107.32L160.05 107.26L161.91 107.24L163.77 107.20L165.63 107.08L167.49 106.87L169.35 106.64L171.22 106.49L173.08 106.48L174.94 106.60L176.80 106.76L178.66 106.88L180.52 106.93L182.38 106.95L184.25 107.01L186.11 107.14L187.97 107.29L189.83 107.37L191.69 107.33L193.55 107.20L195.42 107.07L197.28 107.04L199.14 107.13L201.00 107.29L202.86 107.44L204.72 107.52L206.58 107.54L208.45 107.57L210.31 107.67L212.17 107.80L214.03 107.90L215.89 107.88L217.75 107.72L219.62 107.47L221.48 107.25L223.34 107.12L225.20 107.09" fill="none" stroke="#2a2a2a" stroke-width="1.3"/>
<path d="M152.60 109.60L154.46 109.70L156.32 109.86L158.18 109.98L160.05 110.03L161.91 110.04L163.77 110.08L165.63 110.17L167.49 110.31L169.35 110.39L171.22 110.34L173.08 110.15L174.94 109.89L176.80 109.68L178.66 109.57L180.52 109.54L182.38 109.53L184.25 109.48L186.11 109.38L187.97 109.31L189.83 109.33L191.69 109.45L193.55 109.59L195.42 109.67L197.28 109.62L199.14 109.47L201.00 109.31L202.86 109.23L204.72 109.24L206.58 109.30L208.45 109.33L210.31 109.32L212.17 109.31L214.03 109.37L215.89 109.55L217.75 109.81L219.62 110.07L221.48 110.21L223.34 110.22L225.20 110.15" fill="none" stroke="#2a2a2a" stroke-width="1.3"/>
<path d="M152.60 112.72L154.46 112.62L156.32 112.56L158.18 112.54L160.05 112.50L161.91 112.37L163.77 112.15L165.63 111.90L167.49 111.71L169.35 111.66L171.22 111.74L173.08 111.86L174.94 111.93L176.80 111.93L178.66 111.90L180.52 111.90L182.38 111.97L184.25 112.07L186.11 112.11L187.97 112.05L189.83 111.91L191.69 111.76L193.55 111.72L195.42 111.81L197.28 111.99L199.14 112.17L201.00 112.28L202.86 112.34L204.72 112.41L206.58 112.54L208.45 112.72L210.31 112.87L212.17 112.90L214.03 112.79L215.89 112.60L217.75 112.41L219.62 112.33L221.48 112.33L223.34 112.37L225.20 112.36" fill="none" stroke="#2a2a2a" stroke-width="1.3"/>
<path d="M152.60 114.55L154.46 114.62L156.32 114.57L158.18 114.40L160.05 114.21L161.91 114.09L163.77 114.08L165.63 114.12L167.49 114.16L169.35 114.15L171.22 114.13L173.08 114.17L174.94 114.33L176.80 114.58L178.66 114.84L180.52 115.01L182.38 115.03L184.25 114.97L186.11 114.90L187.97 114.89L189.83 114.93L191.69 114.95L193.55 114.91L195.42 114.79L197.28 114.69L199.14 114.68L201.00 114.78L202.86 114.95L204.72 115.09L206.58 115.10L208.45 115.00L210.31 114.85L212.17 114.73L214.03 114.67L215.89 114.62L217.75 114.51L219.62 114.32L221.48 114.10L223.34 113.94L225.20 113.92" fill="none" stroke="#2a2a2a" stroke-width="1.3"/>
</g></g>
<rect x="154.6" y="84.0" width="68.6" height="62.900000000000006" fill="none" stroke="#4fb67c" stroke-width="1.2"/>
<clipPath id="tc2"><rect x="154.6" y="149.6" width="68.6" height="62.20000000000002"/></clipPath>
<g clip-path="url(#tc2)"><g filter="url(#tem)">
<rect x="154.6" y="149.6" width="68.6" height="62.20000000000002" fill="#9e9e9e"/>
<rect x="154.6" y="149.6" width="68.6" height="22" fill="#a8a8a8"/>
<path d="M152.60 179.46L154.46 179.39L156.32 179.26L158.18 179.14L160.05 179.10L161.91 179.13L163.77 179.18L165.63 179.19L167.49 179.16L169.35 179.11L171.22 179.12L173.08 179.18L174.94 179.26L176.80 179.29L178.66 179.22L180.52 179.06L182.38 178.87L184.25 178.73L186.11 178.67L187.97 178.66L189.83 178.65L191.69 178.60L193.55 178.54L195.42 178.53L197.28 178.61L199.14 178.77L201.00 178.93L202.86 179.03L204.72 179.03L206.58 178.97L208.45 178.91L210.31 178.91L212.17 178.95L214.03 179.00L215.89 179.01L217.75 178.98L219.62 178.95L221.48 179.00L223.34 179.13L225.20 179.31" fill="none" stroke="#767676" stroke-width="6.5"/>
<path d="M152.60 176.54L154.46 176.53L156.32 176.58L158.18 176.65L160.05 176.67L161.91 176.65L163.77 176.62L165.63 176.66L167.49 176.80L169.35 177.00L171.22 177.17L173.08 177.23L174.94 177.17L176.80 177.04L178.66 176.93L180.52 176.87L182.38 176.83L184.25 176.76L186.11 176.62L187.97 176.44L189.83 176.29L191.69 176.26L193.55 176.34L195.42 176.46L197.28 176.55L199.14 176.54L201.00 176.47L202.86 176.38L204.72 176.35L206.58 176.37L208.45 176.38L210.31 176.33L212.17 176.21L214.03 176.09L215.89 176.05L217.75 176.13L219.62 176.32L221.48 176.53L223.34 176.68L225.20 176.75" fill="none" stroke="#262626" stroke-width="1.3"/>
<path d="M152.60 179.18L154.46 179.21L156.32 179.26L158.18 179.37L160.05 179.52L161.91 179.64L163.77 179.64L165.63 179.52L167.49 179.32L169.35 179.15L171.22 179.05L173.08 179.02L174.94 179.00L176.80 178.94L178.66 178.84L180.52 178.76L182.38 178.76L184.25 178.84L186.11 178.97L187.97 179.03L189.83 178.99L191.69 178.86L193.55 178.70L195.42 178.60L197.28 178.58L199.14 178.61L201.00 178.61L202.86 178.57L204.72 178.52L206.58 178.54L208.45 178.68L210.31 178.90L212.17 179.13L214.03 179.28L215.89 179.32L217.75 179.29L219.62 179.25L221.48 179.27L223.34 179.31L225.20 179.33" fill="none" stroke="#262626" stroke-width="0.8"/>
<path d="M152.60 181.16L154.46 181.20L156.32 181.30L158.18 181.39L160.05 181.40L161.91 181.32L163.77 181.19L165.63 181.11L167.49 181.14L169.35 181.28L171.22 181.45L173.08 181.58L174.94 181.65L176.80 181.68L178.66 181.74L180.52 181.86L182.38 181.98L184.25 182.04L186.11 181.97L187.97 181.80L189.83 181.60L191.69 181.45L193.55 181.40L195.42 181.42L197.28 181.43L199.14 181.39L201.00 181.32L202.86 181.26L204.72 181.29L206.58 181.37L208.45 181.46L210.31 181.46L212.17 181.35L214.03 181.16L215.89 180.99L217.75 180.91L219.62 180.91L221.48 180.95L223.34 180.97L225.20 180.95" fill="none" stroke="#262626" stroke-width="1.3"/>
<path d="M182 176.6 L189 178.6 L196 176.6" fill="none" stroke="#262626" stroke-width="1.2"/>
</g></g>
<rect x="154.6" y="149.6" width="68.6" height="62.20000000000002" fill="none" stroke="#66c08e" stroke-width="1.2"/>
<clipPath id="tc3"><rect x="154.6" y="214.6" width="68.6" height="64.6"/></clipPath>
<g clip-path="url(#tc3)"><g filter="url(#tem2)">
<rect x="154.6" y="214.6" width="68.6" height="64.6" fill="#a8a8a8"/>
<path d="M152.60 246.13L154.46 246.07L156.32 246.02L158.18 245.92L160.05 245.74L161.91 245.56L163.77 245.45L165.63 245.50L167.49 245.67L169.35 245.87L171.22 246.02L173.08 246.07L174.94 246.07L176.80 246.10L178.66 246.18L180.52 246.29L182.38 246.35L184.25 246.31L186.11 246.19L187.97 246.08L189.83 246.07L191.69 246.19L193.55 246.38L195.42 246.56L197.28 246.66L199.14 246.67L201.00 246.67L202.86 246.71L204.72 246.79L206.58 246.83L208.45 246.77L210.31 246.57L212.17 246.31L214.03 246.08L215.89 245.97L217.75 245.98L219.62 246.02L221.48 246.03L223.34 245.99L225.20 245.92" fill="none" stroke="#2e2e2e" stroke-width="1.4"/>
<rect x="154.6" y="248" width="68.6" height="10" fill="#b4b4b4"/>
<rect x="154.6" y="258" width="68.6" height="21.19999999999999" fill="#8a8a8a"/>
<rect x="154.6" y="258" width="22" height="21.19999999999999" fill="#7a7a7a"/>
</g></g>
<rect x="154.6" y="214.6" width="68.6" height="64.6" fill="none" stroke="#b6e2ca" stroke-width="1.2"/>
<text x="189" y="25.9" font-size="8.4" fill="#1a1a1a" text-anchor="middle" font-weight="normal" >Bulk</text>
<text x="197.6" y="60.6" font-size="8.4" fill="#fff" text-anchor="start" font-weight="normal" >SiO<tspan font-size="5.5" dy="2">2</tspan></text>
<text x="197.8" y="76.6" font-size="8.4" fill="#fff" text-anchor="start" font-weight="normal" >Si</text>
<text x="161.6" y="72.0" font-size="8.8" fill="#fff" text-anchor="start" font-weight="normal" >5 nm</text>
<rect x="159.5" y="76.0" width="24.5" height="2.4" fill="#fff"/>
<text x="161.6" y="138.3" font-size="8.8" fill="#fff" text-anchor="start" font-weight="normal" >5 nm</text>
<rect x="159.5" y="142.2" width="24.5" height="2.4" fill="#fff"/>
<text x="161.6" y="203.0" font-size="8.8" fill="#fff" text-anchor="start" font-weight="normal" >5 nm</text>
<rect x="159.5" y="207.3" width="24.5" height="2.4" fill="#fff"/>
<text x="161.6" y="269.3" font-size="8.8" fill="#fff" text-anchor="start" font-weight="normal" >5 nm</text>
<rect x="159.5" y="273.6" width="24.5" height="2.4" fill="#fff"/>
<text x="189.8" y="92.6" font-size="8.6" fill="#1a1a1a" text-anchor="middle" font-weight="normal" >3 layers</text>
<text x="189.6" y="158.6" font-size="8.6" fill="#1a1a1a" text-anchor="middle" font-weight="normal" >2 layers</text>
<text x="188.7" y="224.5" font-size="8.6" fill="#1a1a1a" text-anchor="middle" font-weight="normal" >1 layer</text>
<text x="241.5" y="8.9" font-size="12.5" fill="#000" text-anchor="start" font-weight="bold" >b</text>
<path d="M266.2 18.6H423.5" fill="none" stroke="#9a9a9a" stroke-width="0.9"/>
<path d="M266.2 18.6V246.0H423.5V18.6" fill="none" stroke="#7a7a7a" stroke-width="0.9"/>
<text x="261.8" y="249.2" font-size="9" fill="#231f20" text-anchor="end" font-weight="normal" >0</text>
<line x1="266.2" y1="181.00" x2="269.7" y2="181.00" stroke="#7a7a7a" stroke-width="0.9"/>
<text x="261.8" y="184.2" font-size="9" fill="#231f20" text-anchor="end" font-weight="normal" >2</text>
<line x1="266.2" y1="116.00" x2="269.7" y2="116.00" stroke="#7a7a7a" stroke-width="0.9"/>
<text x="261.8" y="119.2" font-size="9" fill="#231f20" text-anchor="end" font-weight="normal" >4</text>
<line x1="266.2" y1="51.00" x2="269.7" y2="51.00" stroke="#7a7a7a" stroke-width="0.9"/>
<text x="261.8" y="54.2" font-size="9" fill="#231f20" text-anchor="end" font-weight="normal" >6</text>
<line x1="301.20" y1="246.0" x2="301.20" y2="241.5" stroke="#7a7a7a" stroke-width="0.9"/>
<line x1="336.20" y1="246.0" x2="336.20" y2="241.5" stroke="#7a7a7a" stroke-width="0.9"/>
<line x1="371.20" y1="246.0" x2="371.20" y2="241.5" stroke="#7a7a7a" stroke-width="0.9"/>
<line x1="406.20" y1="246.0" x2="406.20" y2="241.5" stroke="#7a7a7a" stroke-width="0.9"/>
<text x="266.20" y="256.3" font-size="9" fill="#231f20" text-anchor="middle" font-weight="normal" >0</text>
<text x="301.20" y="256.3" font-size="9" fill="#231f20" text-anchor="middle" font-weight="normal" >20</text>
<text x="336.20" y="256.3" font-size="9" fill="#231f20" text-anchor="middle" font-weight="normal" >40</text>
<text x="371.20" y="256.3" font-size="9" fill="#231f20" text-anchor="middle" font-weight="normal" >60</text>
<text x="406.20" y="256.3" font-size="9" fill="#231f20" text-anchor="middle" font-weight="normal" >80</text>
<line x1="420.0" y1="231.00" x2="423.5" y2="231.00" stroke="#7a7a7a" stroke-width="0.9"/>
<line x1="420.0" y1="160.25" x2="423.5" y2="160.25" stroke="#7a7a7a" stroke-width="0.9"/>
<line x1="420.0" y1="89.50" x2="423.5" y2="89.50" stroke="#7a7a7a" stroke-width="0.9"/>
<text x="426.6" y="234.2" font-size="9" fill="#231f20" text-anchor="start" font-weight="normal" >61</text>
<text x="426.6" y="163.45" font-size="9" fill="#231f20" text-anchor="start" font-weight="normal" >62</text>
<text x="426.6" y="92.7" font-size="9" fill="#231f20" text-anchor="start" font-weight="normal" >63</text>
<text x="426.6" y="21.95" font-size="9" fill="#231f20" text-anchor="start" font-weight="normal" >64</text>
<text x="344.6" y="269.2" font-size="9" fill="#231f20" text-anchor="middle" font-weight="normal" >Number of ALD cycles</text>
<text x="0" y="0" font-size="9" fill="#e8262a" text-anchor="middle" font-weight="normal" transform="translate(249.9 132.9) rotate(-90)">Thickness from cross-sectional TEM (nm)</text>
<text x="0" y="0" font-size="8.6" fill="#3a50b0" text-anchor="middle" font-weight="normal" transform="translate(442.3 130) rotate(90)">Δω from Raman spectra (cm<tspan font-size="5.6" dy="-3.5">-1</tspan><tspan dy="3.5">)</tspan></text>
<g shape-rendering="crispEdges"><rect x="307.00" y="22.40" width="3.62" height="3.67" fill="#28b3b6"/><rect x="310.57" y="22.40" width="3.62" height="3.67" fill="#2cb4af"/><rect x="314.15" y="22.40" width="3.62" height="3.67" fill="#28b2b7"/><rect x="317.72" y="22.40" width="3.62" height="3.67" fill="#22aacb"/><rect x="321.29" y="22.40" width="3.62" height="3.67" fill="#2db4ae"/><rect x="324.87" y="22.40" width="3.62" height="3.67" fill="#29b3b5"/><rect x="328.44" y="22.40" width="3.62" height="3.67" fill="#21b0c4"/><rect x="332.01" y="22.40" width="3.62" height="3.67" fill="#2ab3b3"/><rect x="335.59" y="22.40" width="3.62" height="3.67" fill="#28b3b6"/><rect x="339.16" y="22.40" width="3.62" height="3.67" fill="#28b2b7"/><rect x="342.73" y="22.40" width="3.62" height="3.67" fill="#25b2bb"/><rect x="346.31" y="22.40" width="3.62" height="3.67" fill="#2ab3b3"/><rect x="349.88" y="22.40" width="3.62" height="3.67" fill="#1fafc7"/><rect x="353.45" y="22.40" width="3.62" height="3.67" fill="#24b1be"/><rect x="357.03" y="22.40" width="3.62" height="3.67" fill="#21b0c3"/><rect x="307.00" y="26.02" width="3.62" height="3.67" fill="#2ab3b3"/><rect x="310.57" y="26.02" width="3.62" height="3.67" fill="#25b2bb"/><rect x="314.15" y="26.02" width="3.62" height="3.67" fill="#23b1c0"/><rect x="317.72" y="26.02" width="3.62" height="3.67" fill="#1eafc7"/><rect x="321.29" y="26.02" width="3.62" height="3.67" fill="#23b1bf"/><rect x="324.87" y="26.02" width="3.62" height="3.67" fill="#25b2bb"/><rect x="328.44" y="26.02" width="3.62" height="3.67" fill="#23b1c0"/><rect x="332.01" y="26.02" width="3.62" height="3.67" fill="#30b5a8"/><rect x="335.59" y="26.02" width="3.62" height="3.67" fill="#2eb5ac"/><rect x="339.16" y="26.02" width="3.62" height="3.67" fill="#2e9bd4"/><rect x="342.73" y="26.02" width="3.62" height="3.67" fill="#27a4cf"/><rect x="346.31" y="26.02" width="3.62" height="3.67" fill="#24b1be"/><rect x="349.88" y="26.02" width="3.62" height="3.67" fill="#22b0c2"/><rect x="353.45" y="26.02" width="3.62" height="3.67" fill="#27b2b8"/><rect x="357.03" y="26.02" width="3.62" height="3.67" fill="#27b2b8"/><rect x="307.00" y="29.63" width="3.62" height="3.67" fill="#3db79b"/><rect x="310.57" y="29.63" width="3.62" height="3.67" fill="#20acca"/><rect x="314.15" y="29.63" width="3.62" height="3.67" fill="#22b0c1"/><rect x="317.72" y="29.63" width="3.62" height="3.67" fill="#3cb79c"/><rect x="321.29" y="29.63" width="3.62" height="3.67" fill="#2bb3b2"/><rect x="324.87" y="29.63" width="3.62" height="3.67" fill="#2bb3b2"/><rect x="328.44" y="29.63" width="3.62" height="3.67" fill="#21b0c3"/><rect x="332.01" y="29.63" width="3.62" height="3.67" fill="#25a6cd"/><rect x="335.59" y="29.63" width="3.62" height="3.67" fill="#27b2b9"/><rect x="339.16" y="29.63" width="3.62" height="3.67" fill="#26b2ba"/><rect x="342.73" y="29.63" width="3.62" height="3.67" fill="#21abcb"/><rect x="346.31" y="29.63" width="3.62" height="3.67" fill="#1fafc6"/><rect x="349.88" y="29.63" width="3.62" height="3.67" fill="#25b1bd"/><rect x="353.45" y="29.63" width="3.62" height="3.67" fill="#1faec9"/><rect x="357.03" y="29.63" width="3.62" height="3.67" fill="#24b1bd"/><rect x="307.00" y="33.25" width="3.62" height="3.67" fill="#26b2ba"/><rect x="310.57" y="33.25" width="3.62" height="3.67" fill="#25b2bb"/><rect x="314.15" y="33.25" width="3.62" height="3.67" fill="#21b0c3"/><rect x="317.72" y="33.25" width="3.62" height="3.67" fill="#2ab3b3"/><rect x="321.29" y="33.25" width="3.62" height="3.67" fill="#2db4ae"/><rect x="324.87" y="33.25" width="3.62" height="3.67" fill="#28b2b7"/><rect x="328.44" y="33.25" width="3.62" height="3.67" fill="#1eafc8"/><rect x="332.01" y="33.25" width="3.62" height="3.67" fill="#2bb4b1"/><rect x="335.59" y="33.25" width="3.62" height="3.67" fill="#21b0c3"/><rect x="339.16" y="33.25" width="3.62" height="3.67" fill="#2db4ae"/><rect x="342.73" y="33.25" width="3.62" height="3.67" fill="#20acca"/><rect x="346.31" y="33.25" width="3.62" height="3.67" fill="#2db4ae"/><rect x="349.88" y="33.25" width="3.62" height="3.67" fill="#25b1bc"/><rect x="353.45" y="33.25" width="3.62" height="3.67" fill="#22abcb"/><rect x="357.03" y="33.25" width="3.62" height="3.67" fill="#22b1c0"/><rect x="307.00" y="36.86" width="3.62" height="3.67" fill="#26b2bb"/><rect x="310.57" y="36.86" width="3.62" height="3.67" fill="#27b2b7"/><rect x="314.15" y="36.86" width="3.62" height="3.67" fill="#1fadc9"/><rect x="317.72" y="36.86" width="3.62" height="3.67" fill="#20acca"/><rect x="321.29" y="36.86" width="3.62" height="3.67" fill="#27b2b9"/><rect x="324.87" y="36.86" width="3.62" height="3.67" fill="#21b0c3"/><rect x="328.44" y="36.86" width="3.62" height="3.67" fill="#27b2b8"/><rect x="332.01" y="36.86" width="3.62" height="3.67" fill="#2cb4b0"/><rect x="335.59" y="36.86" width="3.62" height="3.67" fill="#25a6cd"/><rect x="339.16" y="36.86" width="3.62" height="3.67" fill="#27b2b8"/><rect x="342.73" y="36.86" width="3.62" height="3.67" fill="#30b5a9"/><rect x="346.31" y="36.86" width="3.62" height="3.67" fill="#23b1c0"/><rect x="349.88" y="36.86" width="3.62" height="3.67" fill="#1eafc8"/><rect x="353.45" y="36.86" width="3.62" height="3.67" fill="#2cb4b0"/><rect x="357.03" y="36.86" width="3.62" height="3.67" fill="#27b2b8"/><rect x="307.00" y="40.48" width="3.62" height="3.67" fill="#2db4ae"/><rect x="310.57" y="40.48" width="3.62" height="3.67" fill="#22b0c1"/><rect x="314.15" y="40.48" width="3.62" height="3.67" fill="#24a8cc"/><rect x="317.72" y="40.48" width="3.62" height="3.67" fill="#24b1bd"/><rect x="321.29" y="40.48" width="3.62" height="3.67" fill="#21b0c2"/><rect x="324.87" y="40.48" width="3.62" height="3.67" fill="#2cb4b0"/><rect x="328.44" y="40.48" width="3.62" height="3.67" fill="#27b2b9"/><rect x="332.01" y="40.48" width="3.62" height="3.67" fill="#25a6cd"/><rect x="335.59" y="40.48" width="3.62" height="3.67" fill="#21abca"/><rect x="339.16" y="40.48" width="3.62" height="3.67" fill="#2db4ae"/><rect x="342.73" y="40.48" width="3.62" height="3.67" fill="#2bb4b1"/><rect x="346.31" y="40.48" width="3.62" height="3.67" fill="#20b0c5"/><rect x="349.88" y="40.48" width="3.62" height="3.67" fill="#25b1bc"/><rect x="353.45" y="40.48" width="3.62" height="3.67" fill="#29b3b5"/><rect x="357.03" y="40.48" width="3.62" height="3.67" fill="#29b3b4"/><rect x="307.00" y="44.09" width="3.62" height="3.67" fill="#2db4ae"/><rect x="310.57" y="44.09" width="3.62" height="3.67" fill="#27b2b8"/><rect x="314.15" y="44.09" width="3.62" height="3.67" fill="#24b1bd"/><rect x="317.72" y="44.09" width="3.62" height="3.67" fill="#23b1bf"/><rect x="321.29" y="44.09" width="3.62" height="3.67" fill="#2eb5ac"/><rect x="324.87" y="44.09" width="3.62" height="3.67" fill="#2aa0d1"/><rect x="328.44" y="44.09" width="3.62" height="3.67" fill="#24b1be"/><rect x="332.01" y="44.09" width="3.62" height="3.67" fill="#25b2bb"/><rect x="335.59" y="44.09" width="3.62" height="3.67" fill="#23a9cc"/><rect x="339.16" y="44.09" width="3.62" height="3.67" fill="#28b2b7"/><rect x="342.73" y="44.09" width="3.62" height="3.67" fill="#20b0c5"/><rect x="346.31" y="44.09" width="3.62" height="3.67" fill="#2db4af"/><rect x="349.88" y="44.09" width="3.62" height="3.67" fill="#24b1bd"/><rect x="353.45" y="44.09" width="3.62" height="3.67" fill="#2bb4b1"/><rect x="357.03" y="44.09" width="3.62" height="3.67" fill="#30b5a9"/><rect x="307.00" y="47.71" width="3.62" height="3.67" fill="#28b3b6"/><rect x="310.57" y="47.71" width="3.62" height="3.67" fill="#1eafc8"/><rect x="314.15" y="47.71" width="3.62" height="3.67" fill="#24a8cc"/><rect x="317.72" y="47.71" width="3.62" height="3.67" fill="#37b7a1"/><rect x="321.29" y="47.71" width="3.62" height="3.67" fill="#24b1bd"/><rect x="324.87" y="47.71" width="3.62" height="3.67" fill="#1fafc6"/><rect x="328.44" y="47.71" width="3.62" height="3.67" fill="#26b2b9"/><rect x="332.01" y="47.71" width="3.62" height="3.67" fill="#24b1be"/><rect x="335.59" y="47.71" width="3.62" height="3.67" fill="#2cb4af"/><rect x="339.16" y="47.71" width="3.62" height="3.67" fill="#25b2bb"/><rect x="342.73" y="47.71" width="3.62" height="3.67" fill="#25b2bb"/><rect x="346.31" y="47.71" width="3.62" height="3.67" fill="#1fafc6"/><rect x="349.88" y="47.71" width="3.62" height="3.67" fill="#29b3b4"/><rect x="353.45" y="47.71" width="3.62" height="3.67" fill="#20adc9"/><rect x="357.03" y="47.71" width="3.62" height="3.67" fill="#2bb3b2"/><rect x="307.00" y="51.32" width="3.62" height="3.67" fill="#32b6a5"/><rect x="310.57" y="51.32" width="3.62" height="3.67" fill="#24a8cc"/><rect x="314.15" y="51.32" width="3.62" height="3.67" fill="#2c9ed2"/><rect x="317.72" y="51.32" width="3.62" height="3.67" fill="#2ab3b2"/><rect x="321.29" y="51.32" width="3.62" height="3.67" fill="#45b994"/><rect x="324.87" y="51.32" width="3.62" height="3.67" fill="#1fadc9"/><rect x="328.44" y="51.32" width="3.62" height="3.67" fill="#22abcb"/><rect x="332.01" y="51.32" width="3.62" height="3.67" fill="#2ab3b3"/><rect x="335.59" y="51.32" width="3.62" height="3.67" fill="#1eafc8"/><rect x="339.16" y="51.32" width="3.62" height="3.67" fill="#21b0c3"/><rect x="342.73" y="51.32" width="3.62" height="3.67" fill="#22b0c1"/><rect x="346.31" y="51.32" width="3.62" height="3.67" fill="#2ab3b4"/><rect x="349.88" y="51.32" width="3.62" height="3.67" fill="#22b0c2"/><rect x="353.45" y="51.32" width="3.62" height="3.67" fill="#28b2b7"/><rect x="357.03" y="51.32" width="3.62" height="3.67" fill="#24b1be"/><rect x="307.00" y="54.94" width="3.62" height="3.67" fill="#1eafc8"/><rect x="310.57" y="54.94" width="3.62" height="3.67" fill="#22b1c0"/><rect x="314.15" y="54.94" width="3.62" height="3.67" fill="#1faec9"/><rect x="317.72" y="54.94" width="3.62" height="3.67" fill="#25b2bb"/><rect x="321.29" y="54.94" width="3.62" height="3.67" fill="#20acca"/><rect x="324.87" y="54.94" width="3.62" height="3.67" fill="#20acca"/><rect x="328.44" y="54.94" width="3.62" height="3.67" fill="#32b6a6"/><rect x="332.01" y="54.94" width="3.62" height="3.67" fill="#25b1bc"/><rect x="335.59" y="54.94" width="3.62" height="3.67" fill="#25b1bc"/><rect x="339.16" y="54.94" width="3.62" height="3.67" fill="#2ab3b4"/><rect x="342.73" y="54.94" width="3.62" height="3.67" fill="#22b0c2"/><rect x="346.31" y="54.94" width="3.62" height="3.67" fill="#23b1bf"/><rect x="349.88" y="54.94" width="3.62" height="3.67" fill="#29b3b5"/><rect x="353.45" y="54.94" width="3.62" height="3.67" fill="#28b2b7"/><rect x="357.03" y="54.94" width="3.62" height="3.67" fill="#21acca"/><rect x="307.00" y="58.55" width="3.62" height="3.67" fill="#2cb4af"/><rect x="310.57" y="58.55" width="3.62" height="3.67" fill="#20b0c4"/><rect x="314.15" y="58.55" width="3.62" height="3.67" fill="#20adc9"/><rect x="317.72" y="58.55" width="3.62" height="3.67" fill="#1faec8"/><rect x="321.29" y="58.55" width="3.62" height="3.67" fill="#22b0c1"/><rect x="324.87" y="58.55" width="3.62" height="3.67" fill="#34b6a3"/><rect x="328.44" y="58.55" width="3.62" height="3.67" fill="#21abca"/><rect x="332.01" y="58.55" width="3.62" height="3.67" fill="#27b2b9"/><rect x="335.59" y="58.55" width="3.62" height="3.67" fill="#29a1d0"/><rect x="339.16" y="58.55" width="3.62" height="3.67" fill="#25b1bc"/><rect x="342.73" y="58.55" width="3.62" height="3.67" fill="#2db4ae"/><rect x="346.31" y="58.55" width="3.62" height="3.67" fill="#23b1bf"/><rect x="349.88" y="58.55" width="3.62" height="3.67" fill="#20b0c5"/><rect x="353.45" y="58.55" width="3.62" height="3.67" fill="#27b2b8"/><rect x="357.03" y="58.55" width="3.62" height="3.67" fill="#2bb4b1"/><rect x="307.00" y="62.17" width="3.62" height="3.67" fill="#2bb3b2"/><rect x="310.57" y="62.17" width="3.62" height="3.67" fill="#3bb79d"/><rect x="314.15" y="62.17" width="3.62" height="3.67" fill="#27b2b8"/><rect x="317.72" y="62.17" width="3.62" height="3.67" fill="#20b0c4"/><rect x="321.29" y="62.17" width="3.62" height="3.67" fill="#24b1bd"/><rect x="324.87" y="62.17" width="3.62" height="3.67" fill="#25b1bd"/><rect x="328.44" y="62.17" width="3.62" height="3.67" fill="#26b2ba"/><rect x="332.01" y="62.17" width="3.62" height="3.67" fill="#25b1bc"/><rect x="335.59" y="62.17" width="3.62" height="3.67" fill="#27b2b9"/><rect x="339.16" y="62.17" width="3.62" height="3.67" fill="#25a6cd"/><rect x="342.73" y="62.17" width="3.62" height="3.67" fill="#2cb4af"/><rect x="346.31" y="62.17" width="3.62" height="3.67" fill="#20b0c4"/><rect x="349.88" y="62.17" width="3.62" height="3.67" fill="#21abca"/><rect x="353.45" y="62.17" width="3.62" height="3.67" fill="#2bb3b2"/><rect x="357.03" y="62.17" width="3.62" height="3.67" fill="#30b5a8"/><rect x="307.00" y="65.78" width="3.62" height="3.67" fill="#29b3b4"/><rect x="310.57" y="65.78" width="3.62" height="3.67" fill="#27b2b9"/><rect x="314.15" y="65.78" width="3.62" height="3.67" fill="#1faec9"/><rect x="317.72" y="65.78" width="3.62" height="3.67" fill="#4bb98e"/><rect x="321.29" y="65.78" width="3.62" height="3.67" fill="#2db4ae"/><rect x="324.87" y="65.78" width="3.62" height="3.67" fill="#21acca"/><rect x="328.44" y="65.78" width="3.62" height="3.67" fill="#1eafc7"/><rect x="332.01" y="65.78" width="3.62" height="3.67" fill="#26b2ba"/><rect x="335.59" y="65.78" width="3.62" height="3.67" fill="#24a7cd"/><rect x="339.16" y="65.78" width="3.62" height="3.67" fill="#27b2b9"/><rect x="342.73" y="65.78" width="3.62" height="3.67" fill="#21b0c2"/><rect x="346.31" y="65.78" width="3.62" height="3.67" fill="#30b5a9"/><rect x="349.88" y="65.78" width="3.62" height="3.67" fill="#2db4ad"/><rect x="353.45" y="65.78" width="3.62" height="3.67" fill="#2e9bd4"/><rect x="357.03" y="65.78" width="3.62" height="3.67" fill="#26b2bb"/></g>
<rect x="307.0" y="22.4" width="53.60000000000002" height="47.00000000000001" fill="none" stroke="#5cc597" stroke-width="1.4"/>
<g shape-rendering="crispEdges"><rect x="272.80" y="74.00" width="3.59" height="3.63" fill="#3988d1"/><rect x="276.34" y="74.00" width="3.59" height="3.63" fill="#3f7ccd"/><rect x="279.88" y="74.00" width="3.59" height="3.63" fill="#3e7ecd"/><rect x="283.42" y="74.00" width="3.59" height="3.63" fill="#425db7"/><rect x="286.96" y="74.00" width="3.59" height="3.63" fill="#29a1d0"/><rect x="290.50" y="74.00" width="3.59" height="3.63" fill="#3098d6"/><rect x="294.04" y="74.00" width="3.59" height="3.63" fill="#3e80ce"/><rect x="297.58" y="74.00" width="3.59" height="3.63" fill="#3492d5"/><rect x="301.12" y="74.00" width="3.59" height="3.63" fill="#388ad2"/><rect x="304.66" y="74.00" width="3.59" height="3.63" fill="#407ccc"/><rect x="308.20" y="74.00" width="3.59" height="3.63" fill="#3296d7"/><rect x="311.74" y="74.00" width="3.59" height="3.63" fill="#3e80ce"/><rect x="315.28" y="74.00" width="3.59" height="3.63" fill="#3e80ce"/><rect x="318.82" y="74.00" width="3.59" height="3.63" fill="#4278cb"/><rect x="322.36" y="74.00" width="3.59" height="3.63" fill="#378dd3"/><rect x="272.80" y="77.58" width="3.59" height="3.63" fill="#3c84d0"/><rect x="276.34" y="77.58" width="3.59" height="3.63" fill="#368ed4"/><rect x="279.88" y="77.58" width="3.59" height="3.63" fill="#407bcc"/><rect x="283.42" y="77.58" width="3.59" height="3.63" fill="#3a87d1"/><rect x="286.96" y="77.58" width="3.59" height="3.63" fill="#4376ca"/><rect x="290.50" y="77.58" width="3.59" height="3.63" fill="#3393d6"/><rect x="294.04" y="77.58" width="3.59" height="3.63" fill="#3988d1"/><rect x="297.58" y="77.58" width="3.59" height="3.63" fill="#388bd2"/><rect x="301.12" y="77.58" width="3.59" height="3.63" fill="#378cd3"/><rect x="304.66" y="77.58" width="3.59" height="3.63" fill="#4474c9"/><rect x="308.20" y="77.58" width="3.59" height="3.63" fill="#3492d6"/><rect x="311.74" y="77.58" width="3.59" height="3.63" fill="#26a5ce"/><rect x="315.28" y="77.58" width="3.59" height="3.63" fill="#476ac4"/><rect x="318.82" y="77.58" width="3.59" height="3.63" fill="#4768c2"/><rect x="322.36" y="77.58" width="3.59" height="3.63" fill="#486cc6"/><rect x="272.80" y="81.17" width="3.59" height="3.63" fill="#3393d6"/><rect x="276.34" y="81.17" width="3.59" height="3.63" fill="#3a87d1"/><rect x="279.88" y="81.17" width="3.59" height="3.63" fill="#3197d6"/><rect x="283.42" y="81.17" width="3.59" height="3.63" fill="#3491d5"/><rect x="286.96" y="81.17" width="3.59" height="3.63" fill="#3989d2"/><rect x="290.50" y="81.17" width="3.59" height="3.63" fill="#388ad2"/><rect x="294.04" y="81.17" width="3.59" height="3.63" fill="#3c82cf"/><rect x="297.58" y="81.17" width="3.59" height="3.63" fill="#3394d6"/><rect x="301.12" y="81.17" width="3.59" height="3.63" fill="#4572c9"/><rect x="304.66" y="81.17" width="3.59" height="3.63" fill="#3f7ecd"/><rect x="308.20" y="81.17" width="3.59" height="3.63" fill="#3989d2"/><rect x="311.74" y="81.17" width="3.59" height="3.63" fill="#29a1d0"/><rect x="315.28" y="81.17" width="3.59" height="3.63" fill="#4278cb"/><rect x="318.82" y="81.17" width="3.59" height="3.63" fill="#4473c9"/><rect x="322.36" y="81.17" width="3.59" height="3.63" fill="#407ccc"/><rect x="272.80" y="84.75" width="3.59" height="3.63" fill="#3295d7"/><rect x="276.34" y="84.75" width="3.59" height="3.63" fill="#3d81cf"/><rect x="279.88" y="84.75" width="3.59" height="3.63" fill="#2e9bd4"/><rect x="283.42" y="84.75" width="3.59" height="3.63" fill="#4666c0"/><rect x="286.96" y="84.75" width="3.59" height="3.63" fill="#3198d6"/><rect x="290.50" y="84.75" width="3.59" height="3.63" fill="#3296d7"/><rect x="294.04" y="84.75" width="3.59" height="3.63" fill="#476dc7"/><rect x="297.58" y="84.75" width="3.59" height="3.63" fill="#3988d1"/><rect x="301.12" y="84.75" width="3.59" height="3.63" fill="#3099d5"/><rect x="304.66" y="84.75" width="3.59" height="3.63" fill="#3a87d1"/><rect x="308.20" y="84.75" width="3.59" height="3.63" fill="#3296d7"/><rect x="311.74" y="84.75" width="3.59" height="3.63" fill="#22aacb"/><rect x="315.28" y="84.75" width="3.59" height="3.63" fill="#388ad2"/><rect x="318.82" y="84.75" width="3.59" height="3.63" fill="#3d80ce"/><rect x="322.36" y="84.75" width="3.59" height="3.63" fill="#4278cb"/><rect x="272.80" y="88.34" width="3.59" height="3.63" fill="#3590d5"/><rect x="276.34" y="88.34" width="3.59" height="3.63" fill="#3d82cf"/><rect x="279.88" y="88.34" width="3.59" height="3.63" fill="#3c82cf"/><rect x="283.42" y="88.34" width="3.59" height="3.63" fill="#3c83cf"/><rect x="286.96" y="88.34" width="3.59" height="3.63" fill="#3590d5"/><rect x="290.50" y="88.34" width="3.59" height="3.63" fill="#4473c9"/><rect x="294.04" y="88.34" width="3.59" height="3.63" fill="#486cc6"/><rect x="297.58" y="88.34" width="3.59" height="3.63" fill="#425db7"/><rect x="301.12" y="88.34" width="3.59" height="3.63" fill="#3099d5"/><rect x="304.66" y="88.34" width="3.59" height="3.63" fill="#3a86d1"/><rect x="308.20" y="88.34" width="3.59" height="3.63" fill="#2c9dd3"/><rect x="311.74" y="88.34" width="3.59" height="3.63" fill="#3b85d0"/><rect x="315.28" y="88.34" width="3.59" height="3.63" fill="#4179cb"/><rect x="318.82" y="88.34" width="3.59" height="3.63" fill="#378dd3"/><rect x="322.36" y="88.34" width="3.59" height="3.63" fill="#3b84d0"/><rect x="272.80" y="91.92" width="3.59" height="3.63" fill="#4670c8"/><rect x="276.34" y="91.92" width="3.59" height="3.63" fill="#4376ca"/><rect x="279.88" y="91.92" width="3.59" height="3.63" fill="#29a1d0"/><rect x="283.42" y="91.92" width="3.59" height="3.63" fill="#388bd3"/><rect x="286.96" y="91.92" width="3.59" height="3.63" fill="#378cd3"/><rect x="290.50" y="91.92" width="3.59" height="3.63" fill="#3d81ce"/><rect x="294.04" y="91.92" width="3.59" height="3.63" fill="#417acc"/><rect x="297.58" y="91.92" width="3.59" height="3.63" fill="#3394d6"/><rect x="301.12" y="91.92" width="3.59" height="3.63" fill="#3c83cf"/><rect x="304.66" y="91.92" width="3.59" height="3.63" fill="#4178cb"/><rect x="308.20" y="91.92" width="3.59" height="3.63" fill="#3c83cf"/><rect x="311.74" y="91.92" width="3.59" height="3.63" fill="#4376ca"/><rect x="315.28" y="91.92" width="3.59" height="3.63" fill="#3988d1"/><rect x="318.82" y="91.92" width="3.59" height="3.63" fill="#3198d6"/><rect x="322.36" y="91.92" width="3.59" height="3.63" fill="#4277cb"/><rect x="272.80" y="95.51" width="3.59" height="3.63" fill="#2d9cd3"/><rect x="276.34" y="95.51" width="3.59" height="3.63" fill="#417acc"/><rect x="279.88" y="95.51" width="3.59" height="3.63" fill="#3988d1"/><rect x="283.42" y="95.51" width="3.59" height="3.63" fill="#4277cb"/><rect x="286.96" y="95.51" width="3.59" height="3.63" fill="#3d81cf"/><rect x="290.50" y="95.51" width="3.59" height="3.63" fill="#3a86d1"/><rect x="294.04" y="95.51" width="3.59" height="3.63" fill="#3f7ecd"/><rect x="297.58" y="95.51" width="3.59" height="3.63" fill="#4179cb"/><rect x="301.12" y="95.51" width="3.59" height="3.63" fill="#417acc"/><rect x="304.66" y="95.51" width="3.59" height="3.63" fill="#4277cb"/><rect x="308.20" y="95.51" width="3.59" height="3.63" fill="#486bc5"/><rect x="311.74" y="95.51" width="3.59" height="3.63" fill="#3d81ce"/><rect x="315.28" y="95.51" width="3.59" height="3.63" fill="#378cd3"/><rect x="318.82" y="95.51" width="3.59" height="3.63" fill="#3394d6"/><rect x="322.36" y="95.51" width="3.59" height="3.63" fill="#3590d5"/><rect x="272.80" y="99.09" width="3.59" height="3.63" fill="#21abcb"/><rect x="276.34" y="99.09" width="3.59" height="3.63" fill="#388bd2"/><rect x="279.88" y="99.09" width="3.59" height="3.63" fill="#3f7ecd"/><rect x="283.42" y="99.09" width="3.59" height="3.63" fill="#28a2d0"/><rect x="286.96" y="99.09" width="3.59" height="3.63" fill="#4474c9"/><rect x="290.50" y="99.09" width="3.59" height="3.63" fill="#3295d7"/><rect x="294.04" y="99.09" width="3.59" height="3.63" fill="#4375ca"/><rect x="297.58" y="99.09" width="3.59" height="3.63" fill="#388bd3"/><rect x="301.12" y="99.09" width="3.59" height="3.63" fill="#4565be"/><rect x="304.66" y="99.09" width="3.59" height="3.63" fill="#3394d6"/><rect x="308.20" y="99.09" width="3.59" height="3.63" fill="#3c83cf"/><rect x="311.74" y="99.09" width="3.59" height="3.63" fill="#4375ca"/><rect x="315.28" y="99.09" width="3.59" height="3.63" fill="#2aa0d1"/><rect x="318.82" y="99.09" width="3.59" height="3.63" fill="#3492d5"/><rect x="322.36" y="99.09" width="3.59" height="3.63" fill="#3a86d1"/><rect x="272.80" y="102.68" width="3.59" height="3.63" fill="#4179cb"/><rect x="276.34" y="102.68" width="3.59" height="3.63" fill="#3b84d0"/><rect x="279.88" y="102.68" width="3.59" height="3.63" fill="#3c82cf"/><rect x="283.42" y="102.68" width="3.59" height="3.63" fill="#3491d5"/><rect x="286.96" y="102.68" width="3.59" height="3.63" fill="#3493d6"/><rect x="290.50" y="102.68" width="3.59" height="3.63" fill="#417acc"/><rect x="294.04" y="102.68" width="3.59" height="3.63" fill="#407ccc"/><rect x="297.58" y="102.68" width="3.59" height="3.63" fill="#3f7ccd"/><rect x="301.12" y="102.68" width="3.59" height="3.63" fill="#476fc7"/><rect x="304.66" y="102.68" width="3.59" height="3.63" fill="#407bcc"/><rect x="308.20" y="102.68" width="3.59" height="3.63" fill="#3c84d0"/><rect x="311.74" y="102.68" width="3.59" height="3.63" fill="#3591d5"/><rect x="315.28" y="102.68" width="3.59" height="3.63" fill="#2e9bd4"/><rect x="318.82" y="102.68" width="3.59" height="3.63" fill="#4278cb"/><rect x="322.36" y="102.68" width="3.59" height="3.63" fill="#368ed4"/><rect x="272.80" y="106.26" width="3.59" height="3.63" fill="#3f7ecd"/><rect x="276.34" y="106.26" width="3.59" height="3.63" fill="#26a5ce"/><rect x="279.88" y="106.26" width="3.59" height="3.63" fill="#3b84d0"/><rect x="283.42" y="106.26" width="3.59" height="3.63" fill="#368ed4"/><rect x="286.96" y="106.26" width="3.59" height="3.63" fill="#4375ca"/><rect x="290.50" y="106.26" width="3.59" height="3.63" fill="#4278cb"/><rect x="294.04" y="106.26" width="3.59" height="3.63" fill="#3989d2"/><rect x="297.58" y="106.26" width="3.59" height="3.63" fill="#3e7fce"/><rect x="301.12" y="106.26" width="3.59" height="3.63" fill="#388bd3"/><rect x="304.66" y="106.26" width="3.59" height="3.63" fill="#486bc5"/><rect x="308.20" y="106.26" width="3.59" height="3.63" fill="#3590d5"/><rect x="311.74" y="106.26" width="3.59" height="3.63" fill="#4376ca"/><rect x="315.28" y="106.26" width="3.59" height="3.63" fill="#2aa0d1"/><rect x="318.82" y="106.26" width="3.59" height="3.63" fill="#3d80ce"/><rect x="322.36" y="106.26" width="3.59" height="3.63" fill="#3197d6"/><rect x="272.80" y="109.85" width="3.59" height="3.63" fill="#476ec7"/><rect x="276.34" y="109.85" width="3.59" height="3.63" fill="#378cd3"/><rect x="279.88" y="109.85" width="3.59" height="3.63" fill="#4376ca"/><rect x="283.42" y="109.85" width="3.59" height="3.63" fill="#3f7dcd"/><rect x="286.96" y="109.85" width="3.59" height="3.63" fill="#3b86d0"/><rect x="290.50" y="109.85" width="3.59" height="3.63" fill="#3e80ce"/><rect x="294.04" y="109.85" width="3.59" height="3.63" fill="#388ad2"/><rect x="297.58" y="109.85" width="3.59" height="3.63" fill="#3492d5"/><rect x="301.12" y="109.85" width="3.59" height="3.63" fill="#3590d5"/><rect x="304.66" y="109.85" width="3.59" height="3.63" fill="#3c84d0"/><rect x="308.20" y="109.85" width="3.59" height="3.63" fill="#476ec7"/><rect x="311.74" y="109.85" width="3.59" height="3.63" fill="#4278cb"/><rect x="315.28" y="109.85" width="3.59" height="3.63" fill="#3d82cf"/><rect x="318.82" y="109.85" width="3.59" height="3.63" fill="#4462bc"/><rect x="322.36" y="109.85" width="3.59" height="3.63" fill="#3492d5"/><rect x="272.80" y="113.43" width="3.59" height="3.63" fill="#3d81cf"/><rect x="276.34" y="113.43" width="3.59" height="3.63" fill="#3d81ce"/><rect x="279.88" y="113.43" width="3.59" height="3.63" fill="#3295d7"/><rect x="283.42" y="113.43" width="3.59" height="3.63" fill="#3590d5"/><rect x="286.96" y="113.43" width="3.59" height="3.63" fill="#3989d2"/><rect x="290.50" y="113.43" width="3.59" height="3.63" fill="#4474c9"/><rect x="294.04" y="113.43" width="3.59" height="3.63" fill="#388ad2"/><rect x="297.58" y="113.43" width="3.59" height="3.63" fill="#388bd3"/><rect x="301.12" y="113.43" width="3.59" height="3.63" fill="#4376ca"/><rect x="304.66" y="113.43" width="3.59" height="3.63" fill="#3297d7"/><rect x="308.20" y="113.43" width="3.59" height="3.63" fill="#368ed4"/><rect x="311.74" y="113.43" width="3.59" height="3.63" fill="#4564be"/><rect x="315.28" y="113.43" width="3.59" height="3.63" fill="#3a87d1"/><rect x="318.82" y="113.43" width="3.59" height="3.63" fill="#4670c8"/><rect x="322.36" y="113.43" width="3.59" height="3.63" fill="#3098d6"/><rect x="272.80" y="117.02" width="3.59" height="3.63" fill="#3493d6"/><rect x="276.34" y="117.02" width="3.59" height="3.63" fill="#4573c9"/><rect x="279.88" y="117.02" width="3.59" height="3.63" fill="#4376ca"/><rect x="283.42" y="117.02" width="3.59" height="3.63" fill="#3a87d1"/><rect x="286.96" y="117.02" width="3.59" height="3.63" fill="#3d81cf"/><rect x="290.50" y="117.02" width="3.59" height="3.63" fill="#2c9ed2"/><rect x="294.04" y="117.02" width="3.59" height="3.63" fill="#3492d5"/><rect x="297.58" y="117.02" width="3.59" height="3.63" fill="#3d80ce"/><rect x="301.12" y="117.02" width="3.59" height="3.63" fill="#368fd4"/><rect x="304.66" y="117.02" width="3.59" height="3.63" fill="#4563bd"/><rect x="308.20" y="117.02" width="3.59" height="3.63" fill="#388ad2"/><rect x="311.74" y="117.02" width="3.59" height="3.63" fill="#3394d6"/><rect x="315.28" y="117.02" width="3.59" height="3.63" fill="#3c82cf"/><rect x="318.82" y="117.02" width="3.59" height="3.63" fill="#4179cb"/><rect x="322.36" y="117.02" width="3.59" height="3.63" fill="#368fd4"/></g>
<rect x="272.8" y="74.0" width="53.099999999999966" height="46.599999999999994" fill="none" stroke="#b9e9d4" stroke-width="1.4"/>
<g shape-rendering="crispEdges"><rect x="361.50" y="112.10" width="3.60" height="3.55" fill="#f7c625"/><rect x="365.05" y="112.10" width="3.60" height="3.55" fill="#e9af31"/><rect x="368.61" y="112.10" width="3.60" height="3.55" fill="#f6b929"/><rect x="372.16" y="112.10" width="3.60" height="3.55" fill="#f6b12b"/><rect x="375.71" y="112.10" width="3.60" height="3.55" fill="#f6b22b"/><rect x="379.27" y="112.10" width="3.60" height="3.55" fill="#f6b42a"/><rect x="382.82" y="112.10" width="3.60" height="3.55" fill="#efac2f"/><rect x="386.37" y="112.10" width="3.60" height="3.55" fill="#f6b42a"/><rect x="389.93" y="112.10" width="3.60" height="3.55" fill="#f5af2c"/><rect x="393.48" y="112.10" width="3.60" height="3.55" fill="#f8d022"/><rect x="397.03" y="112.10" width="3.60" height="3.55" fill="#f6b729"/><rect x="400.59" y="112.10" width="3.60" height="3.55" fill="#f6b32a"/><rect x="404.14" y="112.10" width="3.60" height="3.55" fill="#f6b32a"/><rect x="407.69" y="112.10" width="3.60" height="3.55" fill="#f6b02b"/><rect x="411.25" y="112.10" width="3.60" height="3.55" fill="#f5ad2c"/><rect x="361.50" y="115.60" width="3.60" height="3.55" fill="#f6b32b"/><rect x="365.05" y="115.60" width="3.60" height="3.55" fill="#f6b929"/><rect x="368.61" y="115.60" width="3.60" height="3.55" fill="#f6b42a"/><rect x="372.16" y="115.60" width="3.60" height="3.55" fill="#f7bd28"/><rect x="375.71" y="115.60" width="3.60" height="3.55" fill="#f6b42a"/><rect x="379.27" y="115.60" width="3.60" height="3.55" fill="#f6b62a"/><rect x="382.82" y="115.60" width="3.60" height="3.55" fill="#f7c226"/><rect x="386.37" y="115.60" width="3.60" height="3.55" fill="#f6ba28"/><rect x="389.93" y="115.60" width="3.60" height="3.55" fill="#f6b22b"/><rect x="393.48" y="115.60" width="3.60" height="3.55" fill="#f6b42a"/><rect x="397.03" y="115.60" width="3.60" height="3.55" fill="#f6ba28"/><rect x="400.59" y="115.60" width="3.60" height="3.55" fill="#f7c525"/><rect x="404.14" y="115.60" width="3.60" height="3.55" fill="#f6b42a"/><rect x="407.69" y="115.60" width="3.60" height="3.55" fill="#f6b42a"/><rect x="411.25" y="115.60" width="3.60" height="3.55" fill="#f7bd27"/><rect x="361.50" y="119.10" width="3.60" height="3.55" fill="#f5af2c"/><rect x="365.05" y="119.10" width="3.60" height="3.55" fill="#f6b32a"/><rect x="368.61" y="119.10" width="3.60" height="3.55" fill="#f7bd28"/><rect x="372.16" y="119.10" width="3.60" height="3.55" fill="#f6ba28"/><rect x="375.71" y="119.10" width="3.60" height="3.55" fill="#f6b629"/><rect x="379.27" y="119.10" width="3.60" height="3.55" fill="#f6bb28"/><rect x="382.82" y="119.10" width="3.60" height="3.55" fill="#e6b031"/><rect x="386.37" y="119.10" width="3.60" height="3.55" fill="#f7be27"/><rect x="389.93" y="119.10" width="3.60" height="3.55" fill="#f5ae2c"/><rect x="393.48" y="119.10" width="3.60" height="3.55" fill="#f3ab2e"/><rect x="397.03" y="119.10" width="3.60" height="3.55" fill="#f6b829"/><rect x="400.59" y="119.10" width="3.60" height="3.55" fill="#f6bb28"/><rect x="404.14" y="119.10" width="3.60" height="3.55" fill="#f6b22b"/><rect x="407.69" y="119.10" width="3.60" height="3.55" fill="#f5ad2c"/><rect x="411.25" y="119.10" width="3.60" height="3.55" fill="#f6b62a"/><rect x="361.50" y="122.60" width="3.60" height="3.55" fill="#f6b52a"/><rect x="365.05" y="122.60" width="3.60" height="3.55" fill="#f7c127"/><rect x="368.61" y="122.60" width="3.60" height="3.55" fill="#f6bb28"/><rect x="372.16" y="122.60" width="3.60" height="3.55" fill="#f6b729"/><rect x="375.71" y="122.60" width="3.60" height="3.55" fill="#f7be27"/><rect x="379.27" y="122.60" width="3.60" height="3.55" fill="#f6b42a"/><rect x="382.82" y="122.60" width="3.60" height="3.55" fill="#f5ae2c"/><rect x="386.37" y="122.60" width="3.60" height="3.55" fill="#f6ba28"/><rect x="389.93" y="122.60" width="3.60" height="3.55" fill="#f6ba28"/><rect x="393.48" y="122.60" width="3.60" height="3.55" fill="#f6b42a"/><rect x="397.03" y="122.60" width="3.60" height="3.55" fill="#f5b02b"/><rect x="400.59" y="122.60" width="3.60" height="3.55" fill="#f6b729"/><rect x="404.14" y="122.60" width="3.60" height="3.55" fill="#eaae30"/><rect x="407.69" y="122.60" width="3.60" height="3.55" fill="#f6bb28"/><rect x="411.25" y="122.60" width="3.60" height="3.55" fill="#f6b929"/><rect x="361.50" y="126.10" width="3.60" height="3.55" fill="#f3ab2d"/><rect x="365.05" y="126.10" width="3.60" height="3.55" fill="#f6b62a"/><rect x="368.61" y="126.10" width="3.60" height="3.55" fill="#f5ae2c"/><rect x="372.16" y="126.10" width="3.60" height="3.55" fill="#f7bc28"/><rect x="375.71" y="126.10" width="3.60" height="3.55" fill="#efac2f"/><rect x="379.27" y="126.10" width="3.60" height="3.55" fill="#f5af2c"/><rect x="382.82" y="126.10" width="3.60" height="3.55" fill="#f6bb28"/><rect x="386.37" y="126.10" width="3.60" height="3.55" fill="#f7bf27"/><rect x="389.93" y="126.10" width="3.60" height="3.55" fill="#eead2f"/><rect x="393.48" y="126.10" width="3.60" height="3.55" fill="#f6b22b"/><rect x="397.03" y="126.10" width="3.60" height="3.55" fill="#f6b829"/><rect x="400.59" y="126.10" width="3.60" height="3.55" fill="#f6b12b"/><rect x="404.14" y="126.10" width="3.60" height="3.55" fill="#f7c226"/><rect x="407.69" y="126.10" width="3.60" height="3.55" fill="#f5ac2c"/><rect x="411.25" y="126.10" width="3.60" height="3.55" fill="#f6b829"/><rect x="361.50" y="129.60" width="3.60" height="3.55" fill="#f5ae2c"/><rect x="365.05" y="129.60" width="3.60" height="3.55" fill="#f7c127"/><rect x="368.61" y="129.60" width="3.60" height="3.55" fill="#f6b52a"/><rect x="372.16" y="129.60" width="3.60" height="3.55" fill="#f6b32a"/><rect x="375.71" y="129.60" width="3.60" height="3.55" fill="#f3ab2e"/><rect x="379.27" y="129.60" width="3.60" height="3.55" fill="#f7c326"/><rect x="382.82" y="129.60" width="3.60" height="3.55" fill="#f7bc28"/><rect x="386.37" y="129.60" width="3.60" height="3.55" fill="#f7bc28"/><rect x="389.93" y="129.60" width="3.60" height="3.55" fill="#f7bf27"/><rect x="393.48" y="129.60" width="3.60" height="3.55" fill="#f6b829"/><rect x="397.03" y="129.60" width="3.60" height="3.55" fill="#f6b12b"/><rect x="400.59" y="129.60" width="3.60" height="3.55" fill="#f5af2b"/><rect x="404.14" y="129.60" width="3.60" height="3.55" fill="#f5af2b"/><rect x="407.69" y="129.60" width="3.60" height="3.55" fill="#f7c027"/><rect x="411.25" y="129.60" width="3.60" height="3.55" fill="#f5aa2d"/><rect x="361.50" y="133.10" width="3.60" height="3.55" fill="#f6b12b"/><rect x="365.05" y="133.10" width="3.60" height="3.55" fill="#f6b32a"/><rect x="368.61" y="133.10" width="3.60" height="3.55" fill="#f6b729"/><rect x="372.16" y="133.10" width="3.60" height="3.55" fill="#f6ba28"/><rect x="375.71" y="133.10" width="3.60" height="3.55" fill="#f5ac2c"/><rect x="379.27" y="133.10" width="3.60" height="3.55" fill="#f2ab2e"/><rect x="382.82" y="133.10" width="3.60" height="3.55" fill="#f6b62a"/><rect x="386.37" y="133.10" width="3.60" height="3.55" fill="#f7bf27"/><rect x="389.93" y="133.10" width="3.60" height="3.55" fill="#f7bc28"/><rect x="393.48" y="133.10" width="3.60" height="3.55" fill="#f6b729"/><rect x="397.03" y="133.10" width="3.60" height="3.55" fill="#f6b32a"/><rect x="400.59" y="133.10" width="3.60" height="3.55" fill="#f6b829"/><rect x="404.14" y="133.10" width="3.60" height="3.55" fill="#f6b42a"/><rect x="407.69" y="133.10" width="3.60" height="3.55" fill="#f7bc28"/><rect x="411.25" y="133.10" width="3.60" height="3.55" fill="#f5af2b"/><rect x="361.50" y="136.60" width="3.60" height="3.55" fill="#f6b729"/><rect x="365.05" y="136.60" width="3.60" height="3.55" fill="#f6b52a"/><rect x="368.61" y="136.60" width="3.60" height="3.55" fill="#f6ba28"/><rect x="372.16" y="136.60" width="3.60" height="3.55" fill="#f6b729"/><rect x="375.71" y="136.60" width="3.60" height="3.55" fill="#f8ca24"/><rect x="379.27" y="136.60" width="3.60" height="3.55" fill="#f7c126"/><rect x="382.82" y="136.60" width="3.60" height="3.55" fill="#f7c126"/><rect x="386.37" y="136.60" width="3.60" height="3.55" fill="#efac2f"/><rect x="389.93" y="136.60" width="3.60" height="3.55" fill="#f6b32a"/><rect x="393.48" y="136.60" width="3.60" height="3.55" fill="#f6b12b"/><rect x="397.03" y="136.60" width="3.60" height="3.55" fill="#f6ba28"/><rect x="400.59" y="136.60" width="3.60" height="3.55" fill="#ecad30"/><rect x="404.14" y="136.60" width="3.60" height="3.55" fill="#f7bf27"/><rect x="407.69" y="136.60" width="3.60" height="3.55" fill="#f7be27"/><rect x="411.25" y="136.60" width="3.60" height="3.55" fill="#f5ac2d"/><rect x="361.50" y="140.10" width="3.60" height="3.55" fill="#f5ae2c"/><rect x="365.05" y="140.10" width="3.60" height="3.55" fill="#f5af2b"/><rect x="368.61" y="140.10" width="3.60" height="3.55" fill="#f6b62a"/><rect x="372.16" y="140.10" width="3.60" height="3.55" fill="#f6bb28"/><rect x="375.71" y="140.10" width="3.60" height="3.55" fill="#f7c625"/><rect x="379.27" y="140.10" width="3.60" height="3.55" fill="#f6b42a"/><rect x="382.82" y="140.10" width="3.60" height="3.55" fill="#f7bc28"/><rect x="386.37" y="140.10" width="3.60" height="3.55" fill="#f6b729"/><rect x="389.93" y="140.10" width="3.60" height="3.55" fill="#f7c326"/><rect x="393.48" y="140.10" width="3.60" height="3.55" fill="#f6bb28"/><rect x="397.03" y="140.10" width="3.60" height="3.55" fill="#f7c027"/><rect x="400.59" y="140.10" width="3.60" height="3.55" fill="#f5ad2c"/><rect x="404.14" y="140.10" width="3.60" height="3.55" fill="#f6b42a"/><rect x="407.69" y="140.10" width="3.60" height="3.55" fill="#f5af2b"/><rect x="411.25" y="140.10" width="3.60" height="3.55" fill="#f7c126"/><rect x="361.50" y="143.60" width="3.60" height="3.55" fill="#f6bb28"/><rect x="365.05" y="143.60" width="3.60" height="3.55" fill="#f6b32a"/><rect x="368.61" y="143.60" width="3.60" height="3.55" fill="#f6b22b"/><rect x="372.16" y="143.60" width="3.60" height="3.55" fill="#f6b929"/><rect x="375.71" y="143.60" width="3.60" height="3.55" fill="#f6b02b"/><rect x="379.27" y="143.60" width="3.60" height="3.55" fill="#f5ae2c"/><rect x="382.82" y="143.60" width="3.60" height="3.55" fill="#f6b929"/><rect x="386.37" y="143.60" width="3.60" height="3.55" fill="#f8c924"/><rect x="389.93" y="143.60" width="3.60" height="3.55" fill="#f6b42a"/><rect x="393.48" y="143.60" width="3.60" height="3.55" fill="#f6b12b"/><rect x="397.03" y="143.60" width="3.60" height="3.55" fill="#f5ad2c"/><rect x="400.59" y="143.60" width="3.60" height="3.55" fill="#f5ab2d"/><rect x="404.14" y="143.60" width="3.60" height="3.55" fill="#f6ba29"/><rect x="407.69" y="143.60" width="3.60" height="3.55" fill="#f7bc28"/><rect x="411.25" y="143.60" width="3.60" height="3.55" fill="#f6b62a"/><rect x="361.50" y="147.10" width="3.60" height="3.55" fill="#f6b829"/><rect x="365.05" y="147.10" width="3.60" height="3.55" fill="#f6b729"/><rect x="368.61" y="147.10" width="3.60" height="3.55" fill="#f6b729"/><rect x="372.16" y="147.10" width="3.60" height="3.55" fill="#f5aa2d"/><rect x="375.71" y="147.10" width="3.60" height="3.55" fill="#f6b22b"/><rect x="379.27" y="147.10" width="3.60" height="3.55" fill="#f6b729"/><rect x="382.82" y="147.10" width="3.60" height="3.55" fill="#f5b02b"/><rect x="386.37" y="147.10" width="3.60" height="3.55" fill="#f6b22b"/><rect x="389.93" y="147.10" width="3.60" height="3.55" fill="#f5af2b"/><rect x="393.48" y="147.10" width="3.60" height="3.55" fill="#f6b32a"/><rect x="397.03" y="147.10" width="3.60" height="3.55" fill="#f7bc28"/><rect x="400.59" y="147.10" width="3.60" height="3.55" fill="#f6b32b"/><rect x="404.14" y="147.10" width="3.60" height="3.55" fill="#f6b42a"/><rect x="407.69" y="147.10" width="3.60" height="3.55" fill="#f7bc28"/><rect x="411.25" y="147.10" width="3.60" height="3.55" fill="#f6bb28"/><rect x="361.50" y="150.60" width="3.60" height="3.55" fill="#f7c326"/><rect x="365.05" y="150.60" width="3.60" height="3.55" fill="#eead2f"/><rect x="368.61" y="150.60" width="3.60" height="3.55" fill="#f7bc28"/><rect x="372.16" y="150.60" width="3.60" height="3.55" fill="#f6b22b"/><rect x="375.71" y="150.60" width="3.60" height="3.55" fill="#f6b729"/><rect x="379.27" y="150.60" width="3.60" height="3.55" fill="#f7bc28"/><rect x="382.82" y="150.60" width="3.60" height="3.55" fill="#f7be27"/><rect x="386.37" y="150.60" width="3.60" height="3.55" fill="#f7be27"/><rect x="389.93" y="150.60" width="3.60" height="3.55" fill="#f6b729"/><rect x="393.48" y="150.60" width="3.60" height="3.55" fill="#f7c226"/><rect x="397.03" y="150.60" width="3.60" height="3.55" fill="#f6b32a"/><rect x="400.59" y="150.60" width="3.60" height="3.55" fill="#f6b52a"/><rect x="404.14" y="150.60" width="3.60" height="3.55" fill="#f7bc28"/><rect x="407.69" y="150.60" width="3.60" height="3.55" fill="#f6b12b"/><rect x="411.25" y="150.60" width="3.60" height="3.55" fill="#f7c625"/><rect x="361.50" y="154.10" width="3.60" height="3.55" fill="#f7be27"/><rect x="365.05" y="154.10" width="3.60" height="3.55" fill="#f7c725"/><rect x="368.61" y="154.10" width="3.60" height="3.55" fill="#f6b52a"/><rect x="372.16" y="154.10" width="3.60" height="3.55" fill="#f6b32b"/><rect x="375.71" y="154.10" width="3.60" height="3.55" fill="#f6b729"/><rect x="379.27" y="154.10" width="3.60" height="3.55" fill="#f6bb28"/><rect x="382.82" y="154.10" width="3.60" height="3.55" fill="#f6b12b"/><rect x="386.37" y="154.10" width="3.60" height="3.55" fill="#f6b929"/><rect x="389.93" y="154.10" width="3.60" height="3.55" fill="#f6b62a"/><rect x="393.48" y="154.10" width="3.60" height="3.55" fill="#f7c226"/><rect x="397.03" y="154.10" width="3.60" height="3.55" fill="#f6b12b"/><rect x="400.59" y="154.10" width="3.60" height="3.55" fill="#f7be27"/><rect x="404.14" y="154.10" width="3.60" height="3.55" fill="#f6b12b"/><rect x="407.69" y="154.10" width="3.60" height="3.55" fill="#f5ae2c"/><rect x="411.25" y="154.10" width="3.60" height="3.55" fill="#f6b02b"/></g>
<rect x="361.5" y="112.1" width="53.30000000000001" height="45.5" fill="none" stroke="#1e6b35" stroke-width="1.4"/>
<g shape-rendering="crispEdges"><rect x="318.80" y="189.80" width="3.60" height="3.60" fill="#2eb5ac"/><rect x="322.35" y="189.80" width="3.60" height="3.60" fill="#32b6a5"/><rect x="325.89" y="189.80" width="3.60" height="3.60" fill="#53ba87"/><rect x="329.44" y="189.80" width="3.60" height="3.60" fill="#41b897"/><rect x="332.99" y="189.80" width="3.60" height="3.60" fill="#25b2bb"/><rect x="336.53" y="189.80" width="3.60" height="3.60" fill="#35b6a2"/><rect x="340.08" y="189.80" width="3.60" height="3.60" fill="#2eb5ac"/><rect x="343.63" y="189.80" width="3.60" height="3.60" fill="#38b7a0"/><rect x="347.17" y="189.80" width="3.60" height="3.60" fill="#26b2bb"/><rect x="350.72" y="189.80" width="3.60" height="3.60" fill="#39b79e"/><rect x="354.27" y="189.80" width="3.60" height="3.60" fill="#39b79e"/><rect x="357.81" y="189.80" width="3.60" height="3.60" fill="#51ba88"/><rect x="361.36" y="189.80" width="3.60" height="3.60" fill="#3bb79d"/><rect x="364.91" y="189.80" width="3.60" height="3.60" fill="#3eb89a"/><rect x="368.45" y="189.80" width="3.60" height="3.60" fill="#27b2b9"/><rect x="318.80" y="193.35" width="3.60" height="3.60" fill="#5ebc7d"/><rect x="322.35" y="193.35" width="3.60" height="3.60" fill="#23b1bf"/><rect x="325.89" y="193.35" width="3.60" height="3.60" fill="#49b990"/><rect x="329.44" y="193.35" width="3.60" height="3.60" fill="#31b6a7"/><rect x="332.99" y="193.35" width="3.60" height="3.60" fill="#2cb4b0"/><rect x="336.53" y="193.35" width="3.60" height="3.60" fill="#2eb5ac"/><rect x="340.08" y="193.35" width="3.60" height="3.60" fill="#2eb4ad"/><rect x="343.63" y="193.35" width="3.60" height="3.60" fill="#3cb79c"/><rect x="347.17" y="193.35" width="3.60" height="3.60" fill="#33b6a4"/><rect x="350.72" y="193.35" width="3.60" height="3.60" fill="#50ba8a"/><rect x="354.27" y="193.35" width="3.60" height="3.60" fill="#24b1be"/><rect x="357.81" y="193.35" width="3.60" height="3.60" fill="#35b6a2"/><rect x="361.36" y="193.35" width="3.60" height="3.60" fill="#2cb4b0"/><rect x="364.91" y="193.35" width="3.60" height="3.60" fill="#43b895"/><rect x="368.45" y="193.35" width="3.60" height="3.60" fill="#21b0c2"/><rect x="318.80" y="196.91" width="3.60" height="3.60" fill="#30b5a8"/><rect x="322.35" y="196.91" width="3.60" height="3.60" fill="#39b79f"/><rect x="325.89" y="196.91" width="3.60" height="3.60" fill="#27b2b9"/><rect x="329.44" y="196.91" width="3.60" height="3.60" fill="#47b992"/><rect x="332.99" y="196.91" width="3.60" height="3.60" fill="#38b79f"/><rect x="336.53" y="196.91" width="3.60" height="3.60" fill="#47b992"/><rect x="340.08" y="196.91" width="3.60" height="3.60" fill="#46b992"/><rect x="343.63" y="196.91" width="3.60" height="3.60" fill="#2bb4b1"/><rect x="347.17" y="196.91" width="3.60" height="3.60" fill="#2db4ae"/><rect x="350.72" y="196.91" width="3.60" height="3.60" fill="#32b6a6"/><rect x="354.27" y="196.91" width="3.60" height="3.60" fill="#42b896"/><rect x="357.81" y="196.91" width="3.60" height="3.60" fill="#44b894"/><rect x="361.36" y="196.91" width="3.60" height="3.60" fill="#2db4ad"/><rect x="364.91" y="196.91" width="3.60" height="3.60" fill="#2eb5ac"/><rect x="368.45" y="196.91" width="3.60" height="3.60" fill="#2db4ae"/><rect x="318.80" y="200.46" width="3.60" height="3.60" fill="#2eb5ab"/><rect x="322.35" y="200.46" width="3.60" height="3.60" fill="#31b6a6"/><rect x="325.89" y="200.46" width="3.60" height="3.60" fill="#33b6a4"/><rect x="329.44" y="200.46" width="3.60" height="3.60" fill="#5abb80"/><rect x="332.99" y="200.46" width="3.60" height="3.60" fill="#2fb5aa"/><rect x="336.53" y="200.46" width="3.60" height="3.60" fill="#31b6a7"/><rect x="340.08" y="200.46" width="3.60" height="3.60" fill="#3db89b"/><rect x="343.63" y="200.46" width="3.60" height="3.60" fill="#2bb4b1"/><rect x="347.17" y="200.46" width="3.60" height="3.60" fill="#30b5a8"/><rect x="350.72" y="200.46" width="3.60" height="3.60" fill="#35b6a2"/><rect x="354.27" y="200.46" width="3.60" height="3.60" fill="#43b895"/><rect x="357.81" y="200.46" width="3.60" height="3.60" fill="#28b3b6"/><rect x="361.36" y="200.46" width="3.60" height="3.60" fill="#4eba8c"/><rect x="364.91" y="200.46" width="3.60" height="3.60" fill="#30b5a8"/><rect x="368.45" y="200.46" width="3.60" height="3.60" fill="#38b79f"/><rect x="318.80" y="204.02" width="3.60" height="3.60" fill="#44b894"/><rect x="322.35" y="204.02" width="3.60" height="3.60" fill="#41b897"/><rect x="325.89" y="204.02" width="3.60" height="3.60" fill="#48b991"/><rect x="329.44" y="204.02" width="3.60" height="3.60" fill="#38b79f"/><rect x="332.99" y="204.02" width="3.60" height="3.60" fill="#35b6a3"/><rect x="336.53" y="204.02" width="3.60" height="3.60" fill="#3bb79d"/><rect x="340.08" y="204.02" width="3.60" height="3.60" fill="#2bb4b1"/><rect x="343.63" y="204.02" width="3.60" height="3.60" fill="#4bb98e"/><rect x="347.17" y="204.02" width="3.60" height="3.60" fill="#2db4ae"/><rect x="350.72" y="204.02" width="3.60" height="3.60" fill="#29b3b5"/><rect x="354.27" y="204.02" width="3.60" height="3.60" fill="#5abb80"/><rect x="357.81" y="204.02" width="3.60" height="3.60" fill="#33b6a5"/><rect x="361.36" y="204.02" width="3.60" height="3.60" fill="#29b3b4"/><rect x="364.91" y="204.02" width="3.60" height="3.60" fill="#56bb84"/><rect x="368.45" y="204.02" width="3.60" height="3.60" fill="#31b6a7"/><rect x="318.80" y="207.57" width="3.60" height="3.60" fill="#48b991"/><rect x="322.35" y="207.57" width="3.60" height="3.60" fill="#2cb4af"/><rect x="325.89" y="207.57" width="3.60" height="3.60" fill="#31b6a6"/><rect x="329.44" y="207.57" width="3.60" height="3.60" fill="#25b1bc"/><rect x="332.99" y="207.57" width="3.60" height="3.60" fill="#23b1bf"/><rect x="336.53" y="207.57" width="3.60" height="3.60" fill="#2bb4b1"/><rect x="340.08" y="207.57" width="3.60" height="3.60" fill="#34b6a4"/><rect x="343.63" y="207.57" width="3.60" height="3.60" fill="#43b895"/><rect x="347.17" y="207.57" width="3.60" height="3.60" fill="#61bc7a"/><rect x="350.72" y="207.57" width="3.60" height="3.60" fill="#2bb3b2"/><rect x="354.27" y="207.57" width="3.60" height="3.60" fill="#47b992"/><rect x="357.81" y="207.57" width="3.60" height="3.60" fill="#2eb5ac"/><rect x="361.36" y="207.57" width="3.60" height="3.60" fill="#32b6a5"/><rect x="364.91" y="207.57" width="3.60" height="3.60" fill="#27b2b9"/><rect x="368.45" y="207.57" width="3.60" height="3.60" fill="#27b2b9"/><rect x="318.80" y="211.12" width="3.60" height="3.60" fill="#2db4ae"/><rect x="322.35" y="211.12" width="3.60" height="3.60" fill="#29b3b4"/><rect x="325.89" y="211.12" width="3.60" height="3.60" fill="#35b6a2"/><rect x="329.44" y="211.12" width="3.60" height="3.60" fill="#2db4ad"/><rect x="332.99" y="211.12" width="3.60" height="3.60" fill="#4cb98e"/><rect x="336.53" y="211.12" width="3.60" height="3.60" fill="#38b7a0"/><rect x="340.08" y="211.12" width="3.60" height="3.60" fill="#38b7a0"/><rect x="343.63" y="211.12" width="3.60" height="3.60" fill="#49b98f"/><rect x="347.17" y="211.12" width="3.60" height="3.60" fill="#3eb89a"/><rect x="350.72" y="211.12" width="3.60" height="3.60" fill="#34b6a3"/><rect x="354.27" y="211.12" width="3.60" height="3.60" fill="#33b6a4"/><rect x="357.81" y="211.12" width="3.60" height="3.60" fill="#33b6a4"/><rect x="361.36" y="211.12" width="3.60" height="3.60" fill="#48b990"/><rect x="364.91" y="211.12" width="3.60" height="3.60" fill="#43b895"/><rect x="368.45" y="211.12" width="3.60" height="3.60" fill="#3cb79c"/><rect x="318.80" y="214.68" width="3.60" height="3.60" fill="#43b895"/><rect x="322.35" y="214.68" width="3.60" height="3.60" fill="#2fb5ab"/><rect x="325.89" y="214.68" width="3.60" height="3.60" fill="#3eb89a"/><rect x="329.44" y="214.68" width="3.60" height="3.60" fill="#27b2b8"/><rect x="332.99" y="214.68" width="3.60" height="3.60" fill="#4dba8c"/><rect x="336.53" y="214.68" width="3.60" height="3.60" fill="#37b7a1"/><rect x="340.08" y="214.68" width="3.60" height="3.60" fill="#38b79f"/><rect x="343.63" y="214.68" width="3.60" height="3.60" fill="#40b898"/><rect x="347.17" y="214.68" width="3.60" height="3.60" fill="#35b6a2"/><rect x="350.72" y="214.68" width="3.60" height="3.60" fill="#31b6a6"/><rect x="354.27" y="214.68" width="3.60" height="3.60" fill="#4ab98f"/><rect x="357.81" y="214.68" width="3.60" height="3.60" fill="#37b7a0"/><rect x="361.36" y="214.68" width="3.60" height="3.60" fill="#2cb4b0"/><rect x="364.91" y="214.68" width="3.60" height="3.60" fill="#3db79b"/><rect x="368.45" y="214.68" width="3.60" height="3.60" fill="#25b1bc"/><rect x="318.80" y="218.23" width="3.60" height="3.60" fill="#53ba87"/><rect x="322.35" y="218.23" width="3.60" height="3.60" fill="#32b6a5"/><rect x="325.89" y="218.23" width="3.60" height="3.60" fill="#36b7a1"/><rect x="329.44" y="218.23" width="3.60" height="3.60" fill="#5ebc7d"/><rect x="332.99" y="218.23" width="3.60" height="3.60" fill="#5cbc7f"/><rect x="336.53" y="218.23" width="3.60" height="3.60" fill="#37b7a0"/><rect x="340.08" y="218.23" width="3.60" height="3.60" fill="#40b898"/><rect x="343.63" y="218.23" width="3.60" height="3.60" fill="#49b990"/><rect x="347.17" y="218.23" width="3.60" height="3.60" fill="#53ba86"/><rect x="350.72" y="218.23" width="3.60" height="3.60" fill="#33b6a4"/><rect x="354.27" y="218.23" width="3.60" height="3.60" fill="#37b7a0"/><rect x="357.81" y="218.23" width="3.60" height="3.60" fill="#4bb98e"/><rect x="361.36" y="218.23" width="3.60" height="3.60" fill="#3ab79e"/><rect x="364.91" y="218.23" width="3.60" height="3.60" fill="#43b896"/><rect x="368.45" y="218.23" width="3.60" height="3.60" fill="#40b898"/><rect x="318.80" y="221.78" width="3.60" height="3.60" fill="#2ab3b4"/><rect x="322.35" y="221.78" width="3.60" height="3.60" fill="#2cb4af"/><rect x="325.89" y="221.78" width="3.60" height="3.60" fill="#1fadc9"/><rect x="329.44" y="221.78" width="3.60" height="3.60" fill="#31b6a6"/><rect x="332.99" y="221.78" width="3.60" height="3.60" fill="#4dba8c"/><rect x="336.53" y="221.78" width="3.60" height="3.60" fill="#2ab3b3"/><rect x="340.08" y="221.78" width="3.60" height="3.60" fill="#4bb98e"/><rect x="343.63" y="221.78" width="3.60" height="3.60" fill="#47b992"/><rect x="347.17" y="221.78" width="3.60" height="3.60" fill="#34b6a3"/><rect x="350.72" y="221.78" width="3.60" height="3.60" fill="#35b6a2"/><rect x="354.27" y="221.78" width="3.60" height="3.60" fill="#36b7a1"/><rect x="357.81" y="221.78" width="3.60" height="3.60" fill="#2cb4af"/><rect x="361.36" y="221.78" width="3.60" height="3.60" fill="#31b6a7"/><rect x="364.91" y="221.78" width="3.60" height="3.60" fill="#34b6a3"/><rect x="368.45" y="221.78" width="3.60" height="3.60" fill="#40b898"/><rect x="318.80" y="225.34" width="3.60" height="3.60" fill="#43b895"/><rect x="322.35" y="225.34" width="3.60" height="3.60" fill="#2db4ae"/><rect x="325.89" y="225.34" width="3.60" height="3.60" fill="#44b895"/><rect x="329.44" y="225.34" width="3.60" height="3.60" fill="#2db4ae"/><rect x="332.99" y="225.34" width="3.60" height="3.60" fill="#32b6a5"/><rect x="336.53" y="225.34" width="3.60" height="3.60" fill="#3cb79c"/><rect x="340.08" y="225.34" width="3.60" height="3.60" fill="#35b6a3"/><rect x="343.63" y="225.34" width="3.60" height="3.60" fill="#33b6a4"/><rect x="347.17" y="225.34" width="3.60" height="3.60" fill="#3ab79e"/><rect x="350.72" y="225.34" width="3.60" height="3.60" fill="#2fb5ab"/><rect x="354.27" y="225.34" width="3.60" height="3.60" fill="#2eb5ac"/><rect x="357.81" y="225.34" width="3.60" height="3.60" fill="#32b6a6"/><rect x="361.36" y="225.34" width="3.60" height="3.60" fill="#46b992"/><rect x="364.91" y="225.34" width="3.60" height="3.60" fill="#33b6a4"/><rect x="368.45" y="225.34" width="3.60" height="3.60" fill="#57bb83"/><rect x="318.80" y="228.89" width="3.60" height="3.60" fill="#39b79f"/><rect x="322.35" y="228.89" width="3.60" height="3.60" fill="#22aacb"/><rect x="325.89" y="228.89" width="3.60" height="3.60" fill="#30b5a9"/><rect x="329.44" y="228.89" width="3.60" height="3.60" fill="#53ba87"/><rect x="332.99" y="228.89" width="3.60" height="3.60" fill="#35b6a2"/><rect x="336.53" y="228.89" width="3.60" height="3.60" fill="#30b5a9"/><rect x="340.08" y="228.89" width="3.60" height="3.60" fill="#2cb4b0"/><rect x="343.63" y="228.89" width="3.60" height="3.60" fill="#4dba8c"/><rect x="347.17" y="228.89" width="3.60" height="3.60" fill="#47b992"/><rect x="350.72" y="228.89" width="3.60" height="3.60" fill="#41b897"/><rect x="354.27" y="228.89" width="3.60" height="3.60" fill="#3db79b"/><rect x="357.81" y="228.89" width="3.60" height="3.60" fill="#4fba8a"/><rect x="361.36" y="228.89" width="3.60" height="3.60" fill="#44b895"/><rect x="364.91" y="228.89" width="3.60" height="3.60" fill="#29b3b5"/><rect x="368.45" y="228.89" width="3.60" height="3.60" fill="#43b896"/><rect x="318.80" y="232.45" width="3.60" height="3.60" fill="#38b79f"/><rect x="322.35" y="232.45" width="3.60" height="3.60" fill="#33b6a4"/><rect x="325.89" y="232.45" width="3.60" height="3.60" fill="#43b896"/><rect x="329.44" y="232.45" width="3.60" height="3.60" fill="#36b6a2"/><rect x="332.99" y="232.45" width="3.60" height="3.60" fill="#22aacb"/><rect x="336.53" y="232.45" width="3.60" height="3.60" fill="#51ba89"/><rect x="340.08" y="232.45" width="3.60" height="3.60" fill="#48b991"/><rect x="343.63" y="232.45" width="3.60" height="3.60" fill="#33b6a4"/><rect x="347.17" y="232.45" width="3.60" height="3.60" fill="#30b5a8"/><rect x="350.72" y="232.45" width="3.60" height="3.60" fill="#39b79f"/><rect x="354.27" y="232.45" width="3.60" height="3.60" fill="#28b3b6"/><rect x="357.81" y="232.45" width="3.60" height="3.60" fill="#3bb79d"/><rect x="361.36" y="232.45" width="3.60" height="3.60" fill="#31b6a6"/><rect x="364.91" y="232.45" width="3.60" height="3.60" fill="#30b5a8"/><rect x="368.45" y="232.45" width="3.60" height="3.60" fill="#2cb4b0"/></g>
<rect x="318.8" y="189.8" width="53.19999999999999" height="46.19999999999999" fill="none" stroke="#2a9e55" stroke-width="1.4"/>
<text x="334.0" y="34.6" font-size="8.7" fill="#1a1a1a" text-anchor="middle" font-weight="normal" >2 layers</text>
<text x="298.8" y="86.8" font-size="8.7" fill="#1a1a1a" text-anchor="middle" font-weight="normal" >1 layer</text>
<text x="311.6" y="108.5" font-size="7.6" fill="#111" text-anchor="middle" font-weight="normal" >10 µm</text>
<rect x="306.2" y="110.2" width="17.7" height="2.4" fill="#000"/>
<text x="387.9" y="124.2" font-size="8.7" fill="#1a1a1a" text-anchor="middle" font-weight="normal" >Bulk</text>
<text x="345.4" y="201.5" font-size="8.7" fill="#1a1a1a" text-anchor="middle" font-weight="normal" >3 layers</text>
<rect x="357.9" y="164.0" width="59.8" height="3.9" fill="url(#parula)" stroke="#555" stroke-width="0.3"/>
<text x="358.6" y="176.6" font-size="7.6" fill="#231f20" text-anchor="middle" font-weight="normal" >60</text>
<text x="417.1" y="176.6" font-size="7.6" fill="#231f20" text-anchor="middle" font-weight="normal" >64</text>
<text x="387.9" y="185.6" font-size="7.6" fill="#231f20" text-anchor="middle" font-weight="normal" >Peak distance</text>
<text x="387.5" y="193.8" font-size="7.6" fill="#231f20" text-anchor="middle" font-weight="normal" >(cm<tspan font-size="5" dy="-3">-1</tspan><tspan dy="3">)</tspan></text>
<polyline points="280.20,225.20 294.20,204.40 308.20,183.28 406.20,35.73" fill="none" stroke="#e8262a" stroke-width="0.9"/>
<polyline points="280.20,210.75 294.20,162.00 308.20,139.50 406.20,54.50" fill="none" stroke="#3a50b0" stroke-width="1.0" stroke-dasharray="3.4 2.8"/>
<circle cx="280.20" cy="225.20" r="2.95" fill="#e8262a" stroke="#d4efe0" stroke-width="0.9"/>
<circle cx="294.20" cy="204.40" r="2.95" fill="#e8262a" stroke="#7acc9a" stroke-width="0.9"/>
<circle cx="308.20" cy="183.28" r="2.95" fill="#e8262a" stroke="#2f9a55" stroke-width="0.9"/>
<circle cx="406.20" cy="35.73" r="2.95" fill="#e8262a" stroke="#1e6b35" stroke-width="0.9"/>
<rect x="277.20" y="207.75" width="6.0" height="6.0" fill="#2e4aa2" stroke="#d4efe0" stroke-width="0.9"/>
<rect x="291.20" y="159.00" width="6.0" height="6.0" fill="#2e4aa2" stroke="#7acc9a" stroke-width="0.9"/>
<rect x="305.20" y="136.50" width="6.0" height="6.0" fill="#2e4aa2" stroke="#2f9a55" stroke-width="0.9"/>
<rect x="403.20" y="51.50" width="6.0" height="6.0" fill="#2e4aa2" stroke="#1e6b35" stroke-width="0.9"/>
<text x="282.6" y="156.0" font-size="8.2" fill="#7acc9a" text-anchor="start" font-weight="normal" >2L</text>
<text x="297.6" y="133.8" font-size="8.2" fill="#3aaa6a" text-anchor="start" font-weight="normal" >3L</text>
<text x="268.4" y="200.3" font-size="8.2" fill="#c4ead6" text-anchor="start" font-weight="normal" >1L</text>
<text x="396.8" y="29.5" font-size="8.7" fill="#2f7a45" text-anchor="middle" font-weight="normal" >Bulk</text>
<text x="472.6" y="9.3" font-size="12.5" fill="#000" text-anchor="start" font-weight="bold" >c</text>
<clipPath id="cc"><rect x="472.5" y="15.8" width="118.5" height="225.5"/></clipPath>
<clipPath id="ccp"><rect x="472.5" y="71.5" width="118.5" height="169.8"/></clipPath>
<linearGradient id="purp" gradientUnits="userSpaceOnUse" x1="0" x2="0" y1="71.5" y2="241.3"><stop offset="0" stop-color="#5539a0"/><stop offset="0.40" stop-color="#50369a"/><stop offset="0.58" stop-color="#3e2782"/><stop offset="0.72" stop-color="#2b175c"/><stop offset="0.85" stop-color="#1d0f3e"/><stop offset="1" stop-color="#120822"/></linearGradient>
<linearGradient id="tband" gradientUnits="userSpaceOnUse" x1="0" x2="0" y1="0" y2="280"><stop offset="0.234" stop-color="#f7a41c"/><stop offset="0.236" stop-color="#f8b822"/></linearGradient>
<g clip-path="url(#cc)">
<rect x="472.5" y="71.5" width="118.5" height="169.8" fill="url(#purp)" filter="url(#pn)"/>
<rect x="472.5" y="15.8" width="118.5" height="50" fill="#f7a41c"/>
<rect x="472.5" y="65.7" width="118.5" height="5.8" fill="#f9c614"/>
<g clip-path="url(#ccp)">
<path d="M485.50 19.00 L485.60 60.00 L486.10 80.00 L486.40 110.00 L486.80 150.00 L486.70 180.00 L487.90 200.00 L490.50 220.00 C490.80 232.63 495.00 241.05 500.50 241.05 C505.45 241.05 509.20 232.63 509.50 220.00 L512.10 200.00 L514.50 180.00 L516.70 150.00 L518.40 110.00 L520.00 80.00 L521.10 60.00 L521.10 19.00 Z" fill="#7c62c0" opacity="0.6" filter="url(#blur2)"/>
<rect x="493.5" y="219.8" width="14" height="30" fill="#5a40a0" opacity="0.55" filter="url(#blur2)"/>
<path d="M541.70 19.00 L541.90 60.00 L543.10 80.00 L543.40 110.00 L544.20 150.00 L545.60 180.00 L547.10 200.00 L549.30 220.00 C549.60 234.91 553.53 244.85 558.70 244.85 C563.76 244.85 567.60 234.91 567.90 220.00 L571.10 200.00 L573.30 180.00 L575.90 150.00 L576.10 110.00 L576.50 80.00 L578.00 60.00 L578.10 19.00 Z" fill="#7c62c0" opacity="0.6" filter="url(#blur2)"/>
<rect x="551.7" y="223.6" width="14" height="30" fill="#5a40a0" opacity="0.55" filter="url(#blur2)"/>
</g>
<path d="M490.00 19.00 L490.10 60.00 L490.60 80.00 L490.90 110.00 L491.30 150.00 L491.20 180.00 L492.40 200.00 L495.00 220.00 C495.30 225.88 497.48 229.80 500.50 229.80 C502.98 229.80 504.70 225.88 505.00 220.00 L507.60 200.00 L510.00 180.00 L512.20 150.00 L513.90 110.00 L515.50 80.00 L516.60 60.00 L516.60 19.00 Z" fill="url(#tband)"/>
<path d="M491.90 19.00 L492.00 60.00 L492.50 80.00 L492.80 110.00 L493.20 150.00 L493.00 180.00 L494.10 200.00 L496.60 220.00 C496.90 224.74 498.36 227.90 500.50 227.90 C502.09 227.90 503.10 224.74 503.40 220.00 L505.90 200.00 L508.20 180.00 L510.30 150.00 L512.00 110.00 L513.60 80.00 L514.70 60.00 L514.70 19.00 Z" fill="#f29024"/>
<path d="M492.90 19.00 L493.00 60.00 L493.50 80.00 L493.80 110.00 L494.20 150.00 L493.97 180.00 L495.03 200.00 L497.50 220.00 C497.80 224.14 498.85 226.90 500.50 226.90 C501.60 226.90 502.20 224.14 502.50 220.00 L504.97 200.00 L507.23 180.00 L509.30 150.00 L511.00 110.00 L512.60 80.00 L513.70 60.00 L513.70 19.00 Z" fill="#e8502a"/>
<path d="M494.00 19.00 L494.10 60.00 L494.60 80.00 L494.90 110.00 L495.30 150.00 L495.07 180.00 L496.13 200.00 L498.60 220.00 C498.90 223.00 499.46 225.00 500.50 225.00 C501.00 225.00 501.10 223.00 501.40 220.00 L503.87 200.00 L506.13 180.00 L508.20 150.00 L509.90 110.00 L511.50 80.00 L512.60 60.00 L512.60 19.00 Z" fill="#f5e41e"/>
<path d="M546.20 19.00 L546.40 60.00 L547.60 80.00 L547.90 110.00 L548.70 150.00 L550.10 180.00 L551.60 200.00 L553.80 220.00 C554.10 228.16 556.00 233.60 558.70 233.60 C561.28 233.60 563.10 228.16 563.40 220.00 L566.60 200.00 L568.80 180.00 L571.40 150.00 L571.60 110.00 L572.00 80.00 L573.50 60.00 L573.60 19.00 Z" fill="url(#tband)"/>
<path d="M548.10 19.00 L548.30 60.00 L549.50 80.00 L549.80 110.00 L550.60 150.00 L551.90 180.00 L553.30 200.00 L555.40 220.00 C555.70 227.02 556.88 231.70 558.70 231.70 C560.40 231.70 561.50 227.02 561.80 220.00 L564.90 200.00 L567.00 180.00 L569.50 150.00 L569.70 110.00 L570.10 80.00 L571.60 60.00 L571.70 19.00 Z" fill="#f29024"/>
<path d="M549.10 19.00 L549.30 60.00 L550.50 80.00 L550.80 110.00 L551.60 150.00 L552.87 180.00 L554.23 200.00 L556.30 220.00 C556.60 226.42 557.38 230.70 558.70 230.70 C559.91 230.70 560.60 226.42 560.90 220.00 L563.97 200.00 L566.03 180.00 L568.50 150.00 L568.70 110.00 L569.10 80.00 L570.60 60.00 L570.70 19.00 Z" fill="#e8502a"/>
<path d="M550.20 19.00 L550.40 60.00 L551.60 80.00 L551.90 110.00 L552.70 150.00 L553.97 180.00 L555.33 200.00 L557.40 220.00 C557.70 225.28 557.99 228.80 558.70 228.80 C559.30 228.80 559.50 225.28 559.80 220.00 L562.87 200.00 L564.93 180.00 L567.40 150.00 L567.60 110.00 L568.00 80.00 L569.50 60.00 L569.60 19.00 Z" fill="#f5e41e"/>
<rect x="472.5" y="15.8" width="118.5" height="8.099999999999998" fill="#f2e81e"/>
<path d="M494.0 23.9 H488.59999999999997 Q493.4 23.9 493.4 28.7 V23.9 Z" fill="#f2e81e"/>
<path d="M470.5 23.9 H488.59999999999997 Q493.4 23.9 493.4 28.7 V60" fill="none" stroke="#e8452a" stroke-width="1.1"/>
<path d="M512.6 23.9 H518.0 Q513.2 23.9 513.2 28.7 V23.9 Z" fill="#f2e81e"/>
<path d="M512.6 23.9 V29.2 H513.2 Z" fill="#f2e81e"/>
<path d="M550.2 23.9 H544.8000000000001 Q549.6 23.9 549.6 28.7 V23.9 Z" fill="#f2e81e"/>
<path d="M513.2 60 V28.7 Q513.2 23.9 518.0 23.9 H544.8000000000001 Q549.6 23.9 549.6 28.7 V60" fill="none" stroke="#e8452a" stroke-width="1.1"/>
<path d="M569.6 23.9 H575.0 Q570.2 23.9 570.2 28.7 V23.9 Z" fill="#f2e81e"/>
<path d="M569.6 23.9 V29.2 H570.2 Z" fill="#f2e81e"/>
<path d="M570.2 60 V28.7 Q570.2 23.9 575.0 23.9 H593.0" fill="none" stroke="#e8452a" stroke-width="1.1"/>
</g>
<rect x="510.4" y="22.4" width="17.4" height="17" fill="none" stroke="#111" stroke-width="0.9" stroke-dasharray="2.4 1.6"/>
<text x="531.0" y="28.8" font-size="8" fill="#111" text-anchor="start" font-weight="normal" >(i)</text>
<rect x="486.4" y="193.2" width="28" height="42.2" fill="none" stroke="#eee" stroke-width="0.9" stroke-dasharray="2.4 1.6"/>
<text x="518.0" y="198.8" font-size="8" fill="#eee" text-anchor="start" font-weight="normal" >(ii)</text>
<line x1="536.3" y1="155.4" x2="549.6" y2="140.7" stroke="#fff" stroke-width="1.1"/>
<path d="M551.2 138.9 L546.6 141.3 L549.4 143.8 Z" fill="#fff"/>
<text x="518.8" y="169.3" font-size="8.6" fill="#fff" text-anchor="start" font-weight="normal" >WS<tspan font-size="6" dy="2">2</tspan></text>
<text x="565.3" y="229.3" font-size="8.6" fill="#fff" text-anchor="middle" font-weight="normal" >50 nm</text>
<rect x="549.5" y="233.9" width="33" height="2.2" fill="#fff"/>
<clipPath id="ci"><rect x="593.0" y="15.7" width="92.0" height="87.8"/></clipPath>
<g clip-path="url(#ci)"><g filter="url(#tem)">
<rect x="593.0" y="15.7" width="92.0" height="87.8" fill="#a6a6a6"/>
<path d="M599.80 108.30 C599.88 103.97 600.13 89.63 600.30 82.30 C600.47 74.97 600.58 69.18 600.80 64.30 C601.02 59.42 600.87 56.37 601.60 53.00 C602.33 49.63 603.40 46.92 605.20 44.10 C607.00 41.28 609.12 38.33 612.40 36.10 C615.68 33.87 619.55 31.90 624.90 30.70 C630.25 29.50 637.40 29.30 644.50 28.90 C651.60 28.50 659.50 28.57 667.50 28.30 C675.50 28.03 688.75 13.68 692.50 27.30 C696.25 40.92 705.42 96.22 690.00 110.00 C674.58 123.78 615.00 110.00 600.00 110.00 Z" fill="#9c9c9c"/>
<path d="M597.30 106.00 C597.38 101.67 597.63 87.33 597.80 80.00 C597.97 72.67 598.08 66.88 598.30 62.00 C598.52 57.12 598.37 54.07 599.10 50.70 C599.83 47.33 600.90 44.62 602.70 41.80 C604.50 38.98 606.62 36.03 609.90 33.80 C613.18 31.57 617.05 29.60 622.40 28.40 C627.75 27.20 634.90 27.00 642.00 26.60 C649.10 26.20 657.00 26.27 665.00 26.00 C673.00 25.73 685.83 25.17 690.00 25.00" fill="none" stroke="#7e7e7e" stroke-width="3.8"/>
<path d="M596.39 105.09 C596.47 100.76 596.72 86.42 596.89 79.09 C597.06 71.76 597.17 65.97 597.39 61.09 C597.61 56.21 597.46 53.16 598.19 49.79 C598.92 46.42 599.99 43.71 601.79 40.89 C603.59 38.07 605.71 35.12 608.99 32.89 C612.27 30.66 616.14 28.69 621.49 27.49 C626.84 26.29 633.99 26.09 641.09 25.69 C648.19 25.29 656.09 25.36 664.09 25.09 C672.09 24.82 684.92 24.26 689.09 24.09" fill="none" stroke="#454545" stroke-width="0.7"/>
<path d="M597.37 106.07 C597.45 101.74 597.70 87.40 597.87 80.07 C598.04 72.74 598.15 66.95 598.37 62.07 C598.59 57.19 598.44 54.14 599.17 50.77 C599.90 47.40 600.97 44.69 602.77 41.87 C604.57 39.05 606.69 36.10 609.97 33.87 C613.25 31.64 617.12 29.67 622.47 28.47 C627.82 27.27 634.97 27.07 642.07 26.67 C649.17 26.27 657.07 26.34 665.07 26.07 C673.07 25.80 685.90 25.24 690.07 25.07" fill="none" stroke="#454545" stroke-width="0.7"/>
<path d="M598.28 106.98 C598.36 102.65 598.61 88.31 598.78 80.98 C598.95 73.65 599.06 67.86 599.28 62.98 C599.50 58.10 599.35 55.05 600.08 51.68 C600.81 48.31 601.88 45.60 603.68 42.78 C605.48 39.96 607.60 37.01 610.88 34.78 C614.16 32.55 618.03 30.58 623.38 29.38 C628.73 28.18 635.88 27.98 642.98 27.58 C650.08 27.18 657.98 27.25 665.98 26.98 C673.98 26.71 686.81 26.15 690.98 25.98" fill="none" stroke="#454545" stroke-width="0.7"/>
</g></g>
<text x="595.6" y="27.6" font-size="8" fill="#222" text-anchor="start" font-weight="normal" >(i)</text>
<text x="665.2" y="93.4" font-size="8.4" fill="#fff" text-anchor="middle" font-weight="normal" >5 nm</text>
<rect x="654.6" y="96.0" width="20.5" height="2.2" fill="#fff"/>
<clipPath id="cii"><rect x="593.0" y="106.0" width="92.0" height="135.3"/></clipPath>
<g clip-path="url(#cii)"><g filter="url(#tem)">
<rect x="593.0" y="106" width="92.0" height="135.3" fill="#767676"/>
<path d="M600.20 100.00 C600.25 101.00 600.07 101.00 600.50 106.00 C600.93 111.00 602.13 122.00 602.80 130.00 C603.47 138.00 604.00 146.50 604.50 154.00 C605.00 161.50 605.22 169.00 605.80 175.00 C606.38 181.00 607.02 185.83 608.00 190.00 C608.98 194.17 609.48 195.00 611.70 200.00 C613.92 205.00 617.50 214.80 621.30 220.00 C625.10 225.20 629.32 231.20 634.50 231.20 C639.68 231.20 648.02 225.20 652.40 220.00 C656.78 214.80 658.87 205.33 660.80 200.00 C662.73 194.67 663.00 192.17 664.00 188.00 C665.00 183.83 665.68 180.67 666.80 175.00 C667.92 169.33 669.67 161.50 670.70 154.00 C671.73 146.50 672.25 138.00 673.00 130.00 C673.75 122.00 674.77 111.00 675.20 106.00 C675.63 101.00 675.53 101.00 675.60 100.00 Z" fill="#b4b4b4" stroke="#5a5a5a" stroke-width="1.0"/>
<path d="M619.50 100.00 C619.53 101.00 619.45 101.00 619.70 106.00 C619.95 111.00 620.57 122.00 621.00 130.00 C621.43 138.00 622.05 146.50 622.30 154.00 C622.55 161.50 621.88 168.17 622.50 175.00 C623.12 181.83 624.00 189.22 626.00 195.00 C628.00 200.78 631.10 209.70 634.50 209.70 C637.90 209.70 643.62 200.78 646.40 195.00 C649.18 189.22 649.83 181.83 651.20 175.00 C652.57 168.17 653.72 161.50 654.60 154.00 C655.48 146.50 655.90 138.00 656.50 130.00 C657.10 122.00 657.87 111.00 658.20 106.00 C658.53 101.00 658.45 101.00 658.50 100.00 Z" fill="#ababab" stroke="#383838" stroke-width="2.4"/>
<path d="M619.50 100.00 C619.53 101.00 619.45 101.00 619.70 106.00 C619.95 111.00 620.57 122.00 621.00 130.00 C621.43 138.00 622.05 146.50 622.30 154.00 C622.55 161.50 621.88 168.17 622.50 175.00 C623.12 181.83 624.00 189.22 626.00 195.00 C628.00 200.78 631.10 209.70 634.50 209.70 C637.90 209.70 643.62 200.78 646.40 195.00 C649.18 189.22 649.83 181.83 651.20 175.00 C652.57 168.17 653.72 161.50 654.60 154.00 C655.48 146.50 655.90 138.00 656.50 130.00 C657.10 122.00 657.87 111.00 658.20 106.00 C658.53 101.00 658.45 101.00 658.50 100.00 Z" fill="none" stroke="#8c8c8c" stroke-width="0.7"/>
<path d="M628 150 C630 175 632 190 635 198 C638 190 642 175 646 150" fill="none" stroke="#8a8a8a" stroke-width="1"/>
</g></g>
<text x="600.9" y="118.4" font-size="8" fill="#eee" text-anchor="middle" font-weight="normal" >(ii)</text>
<text x="660.4" y="230.0" font-size="8.6" fill="#fff" text-anchor="middle" font-weight="normal" >10 nm</text>
<rect x="644" y="232.6" width="33.5" height="2.6" fill="#fff"/>
<rect x="484.4" y="249.8" width="187.2" height="7.6" fill="url(#haadf)" stroke="#444" stroke-width="0.4"/>
<text x="484.7" y="268.3" font-size="8.6" fill="#231f20" text-anchor="middle" font-weight="normal" >0</text>
<text x="671.0" y="268.3" font-size="8.6" fill="#231f20" text-anchor="middle" font-weight="normal" >1</text>
<text x="577.8" y="277.8" font-size="8.7" fill="#231f20" text-anchor="middle" font-weight="normal" >HAADF intensity (a.u.)</text>
</svg></body></html>
